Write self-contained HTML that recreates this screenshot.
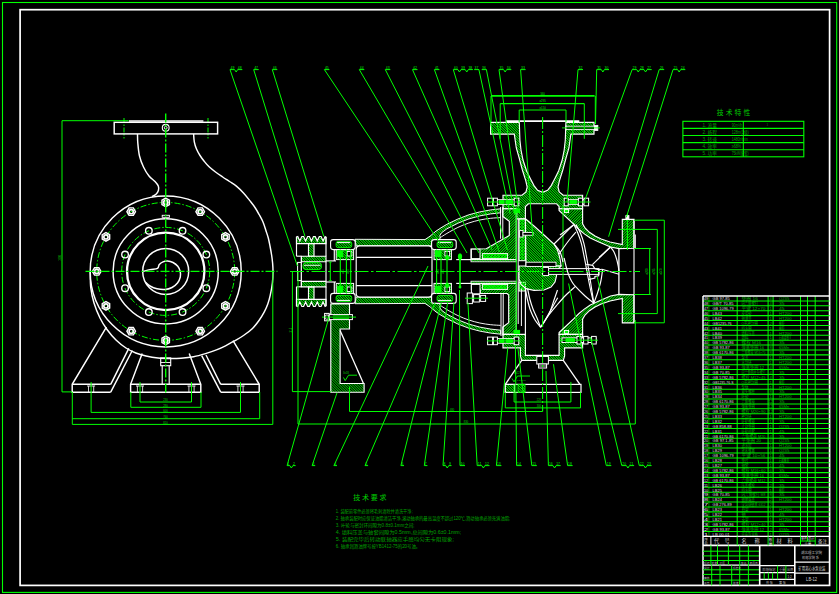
<!DOCTYPE html>
<html lang="zh">
<head>
<meta charset="utf-8">
<title>矿用离心水泵总装图</title>
<style>
html,body{margin:0;padding:0;background:#000;overflow:hidden;}
svg{display:block;}
text{font-family:"Liberation Sans","Noto Sans CJK SC",sans-serif;}
</style>
</head>
<body>
<svg width="839" height="594" viewBox="0 0 839 594">
<defs>
<pattern id="h" width="1.8" height="1.8" patternUnits="userSpaceOnUse" patternTransform="rotate(-45)">
<rect x="0" y="0" width="0.9" height="1.8" fill="#00ff00"/>
</pattern>
<pattern id="h2" width="1.9" height="1.9" patternUnits="userSpaceOnUse" patternTransform="rotate(45)">
<rect x="0" y="0" width="0.9" height="1.9" fill="#00ff00"/>
</pattern>
<pattern id="x" width="2" height="2" patternUnits="userSpaceOnUse" patternTransform="rotate(45)">
<rect x="0" y="0" width="1" height="2" fill="#00ff00"/><rect x="0" y="0" width="2" height="1" fill="#00ff00"/>
</pattern>
</defs>
<rect x="0" y="0" width="839" height="594" fill="#000"/>
<rect x="2.5" y="2.5" width="834.2" height="589.9" stroke="#00ff00" stroke-width="1.1" fill="none" />
<rect x="20.1" y="9.7" width="809.5" height="575.7" stroke="#ffffff" stroke-width="1.7" fill="none" />
<circle cx="165.7" cy="271.4" r="69" stroke="#00ff00" stroke-width="1" fill="none" stroke-dasharray="6 2 1.5 2"/>
<circle cx="165.7" cy="271.4" r="44" stroke="#00ff00" stroke-width="1" fill="none" stroke-dasharray="6 2 1.5 2"/>
<line x1="124" y1="118" x2="124" y2="138.5" stroke="#00ff00" stroke-width="1" stroke-dasharray="5 1.5 1.5 1.5"/>
<line x1="208" y1="118" x2="208" y2="138.5" stroke="#00ff00" stroke-width="1" stroke-dasharray="5 1.5 1.5 1.5"/>
<rect x="114.2" y="122.3" width="103.4" height="11.6" stroke="#ffffff" stroke-width="1.45" fill="none" />
<line x1="129" y1="121" x2="203.4" y2="121" stroke="#ffffff" stroke-width="1.6" />
<circle cx="165.7" cy="127.8" r="3.4" stroke="#ffffff" stroke-width="1.1" fill="none" />
<circle cx="165.7" cy="127.8" r="1.4" stroke="#ffffff" stroke-width="0.9" fill="none" />
<path d="M137.5,133.9C137.55,135.42 137.47,139.32 137.8,143C138.13,146.68 138.55,152 139.5,156C140.45,160 141.92,163.67 143.5,167C145.08,170.33 147.08,173.58 149,176C150.92,178.42 153.45,179.83 155,181.5C156.55,183.17 157.73,184.5 158.3,186C158.87,187.5 158.78,189.13 158.4,190.5C158.02,191.87 157.07,193.18 156,194.2C154.93,195.22 152.67,196.2 152,196.6" stroke="#ffffff" stroke-width="1.45" fill="none" />
<path d="M193.6,133.9C193.72,135.22 193.82,139.28 194.3,141.8C194.78,144.32 195.55,146.72 196.5,149C197.45,151.28 198.75,153.5 200,155.5C201.25,157.5 202.48,159.12 204,161C205.52,162.88 207.18,164.97 209.1,166.8C211.02,168.63 213.23,170.3 215.5,172C217.77,173.7 220.37,175.42 222.7,177C225.03,178.58 227.22,179.98 229.5,181.5C231.78,183.02 234.07,184.18 236.4,186.1C238.73,188.02 241.23,190.53 243.5,193C245.77,195.47 248.08,198.48 250,200.9C251.92,203.32 253.48,205.23 255,207.5C256.52,209.77 257.77,212.08 259.1,214.5C260.43,216.92 261.87,219.33 263,222C264.13,224.67 265.02,227.83 265.9,230.5C266.78,233.17 267.62,235.42 268.3,238C268.98,240.58 269.45,243.17 270,246C270.55,248.83 271.17,252.17 271.6,255C272.03,257.83 272.37,260.27 272.6,263C272.83,265.73 273.03,268.07 273,271.4C272.97,274.73 272.87,279 272.4,283C271.93,287 270.97,291.9 270.2,295.4C269.43,298.9 268.78,301.25 267.8,304C266.82,306.75 265.77,309.15 264.3,311.9C262.83,314.65 260.97,317.75 259,320.5C257.03,323.25 255.08,325.9 252.5,328.4C249.92,330.9 246.63,333.35 243.5,335.5C240.37,337.65 236.7,339.58 233.7,341.3C230.7,343.02 228.27,344.42 225.5,345.8C222.73,347.18 220.43,348.3 217.1,349.6C213.77,350.9 209.42,352.42 205.5,353.6C201.58,354.78 197.68,355.93 193.6,356.7C189.52,357.47 184.93,357.9 181,358.2C177.07,358.5 173.83,358.53 170,358.5C166.17,358.47 162,358.42 158,358C154,357.58 149.7,356.83 146,356C142.3,355.17 139.13,354.33 135.8,353C132.47,351.67 129.3,350.17 126,348C122.7,345.83 119.17,343.08 116,340C112.83,336.92 109.67,333.17 107,329.5C104.33,325.83 102.17,322.42 100,318C97.83,313.58 95.53,308 94,303C92.47,298 91.43,293.27 90.8,288C90.17,282.73 90.3,274.17 90.2,271.4" stroke="#ffffff" stroke-width="1.45" fill="none" />
<circle cx="165.7" cy="271.4" r="75.5" stroke="#ffffff" stroke-width="1.45" fill="none" />
<circle cx="165.7" cy="271.4" r="52.6" stroke="#ffffff" stroke-width="1.45" fill="none" />
<circle cx="165.7" cy="271.4" r="38.7" stroke="#ffffff" stroke-width="2.3" fill="none" />
<circle cx="165.7" cy="271.4" r="23" stroke="#ffffff" stroke-width="1.45" fill="none" />
<path d="M142.8,271.6C144,271.27 147.55,270.13 150,269.6C152.45,269.07 155.95,269.25 157.5,268.4C159.05,267.55 158.38,265.6 159.3,264.5C160.22,263.4 161.63,262.38 163,261.8C164.37,261.22 165.83,260.88 167.5,261C169.17,261.12 171.28,261.62 173,262.5C174.72,263.38 176.6,264.8 177.8,266.3C179,267.8 179.78,269.72 180.2,271.5C180.62,273.28 180.75,275.08 180.3,277C179.85,278.92 178.88,281.25 177.5,283C176.12,284.75 174.08,286.42 172,287.5C169.92,288.58 167.5,289.28 165,289.5C162.5,289.72 159.5,289.38 157,288.8C154.5,288.22 151.92,287.1 150,286C148.08,284.9 146.25,282.83 145.5,282.2" stroke="#ffffff" stroke-width="1.45" fill="none" />
<rect x="162.2" y="215.3" width="7.2" height="2" stroke="#ffffff" stroke-width="0.9" fill="none" />
<polygon points="239,271.4 236.85,275.12 232.55,275.12 230.4,271.4 232.55,267.68 236.85,267.68" stroke="#ffffff" stroke-width="1.4" fill="none" />
<circle cx="234.7" cy="271.4" r="2.1" stroke="#ffffff" stroke-width="1.7" fill="none" />
<polygon points="229.18,308.05 225.46,310.2 221.73,308.05 221.73,303.75 225.46,301.6 229.18,303.75" stroke="#ffffff" stroke-width="1.4" fill="none" />
<circle cx="225.46" cy="305.9" r="2.1" stroke="#ffffff" stroke-width="1.7" fill="none" />
<polygon points="202.35,334.88 198.05,334.88 195.9,331.16 198.05,327.43 202.35,327.43 204.5,331.16" stroke="#ffffff" stroke-width="1.4" fill="none" />
<circle cx="200.2" cy="331.16" r="2.1" stroke="#ffffff" stroke-width="1.7" fill="none" />
<polygon points="165.7,344.7 161.98,342.55 161.98,338.25 165.7,336.1 169.42,338.25 169.42,342.55" stroke="#ffffff" stroke-width="1.4" fill="none" />
<circle cx="165.7" cy="340.4" r="2.1" stroke="#ffffff" stroke-width="1.7" fill="none" />
<polygon points="129.05,334.88 126.9,331.16 129.05,327.43 133.35,327.43 135.5,331.16 133.35,334.88" stroke="#ffffff" stroke-width="1.4" fill="none" />
<circle cx="131.2" cy="331.16" r="2.1" stroke="#ffffff" stroke-width="1.7" fill="none" />
<polygon points="102.22,308.05 102.22,303.75 105.94,301.6 109.67,303.75 109.67,308.05 105.94,310.2" stroke="#ffffff" stroke-width="1.4" fill="none" />
<circle cx="105.94" cy="305.9" r="2.1" stroke="#ffffff" stroke-width="1.7" fill="none" />
<polygon points="92.4,271.4 94.55,267.68 98.85,267.68 101,271.4 98.85,275.12 94.55,275.12" stroke="#ffffff" stroke-width="1.4" fill="none" />
<circle cx="96.7" cy="271.4" r="2.1" stroke="#ffffff" stroke-width="1.7" fill="none" />
<polygon points="102.22,234.75 105.94,232.6 109.67,234.75 109.67,239.05 105.94,241.2 102.22,239.05" stroke="#ffffff" stroke-width="1.4" fill="none" />
<circle cx="105.94" cy="236.9" r="2.1" stroke="#ffffff" stroke-width="1.7" fill="none" />
<polygon points="129.05,207.92 133.35,207.92 135.5,211.64 133.35,215.37 129.05,215.37 126.9,211.64" stroke="#ffffff" stroke-width="1.4" fill="none" />
<circle cx="131.2" cy="211.64" r="2.1" stroke="#ffffff" stroke-width="1.7" fill="none" />
<polygon points="165.7,198.1 169.42,200.25 169.42,204.55 165.7,206.7 161.98,204.55 161.98,200.25" stroke="#ffffff" stroke-width="1.4" fill="none" />
<circle cx="165.7" cy="202.4" r="2.1" stroke="#ffffff" stroke-width="1.7" fill="none" />
<polygon points="202.35,207.92 204.5,211.64 202.35,215.37 198.05,215.37 195.9,211.64 198.05,207.92" stroke="#ffffff" stroke-width="1.4" fill="none" />
<circle cx="200.2" cy="211.64" r="2.1" stroke="#ffffff" stroke-width="1.7" fill="none" />
<polygon points="229.18,234.75 229.18,239.05 225.46,241.2 221.73,239.05 221.73,234.75 225.46,232.6" stroke="#ffffff" stroke-width="1.4" fill="none" />
<circle cx="225.46" cy="236.9" r="2.1" stroke="#ffffff" stroke-width="1.7" fill="none" />
<circle cx="206.35" cy="288.24" r="3.3" stroke="#ffffff" stroke-width="1.35" fill="none" />
<circle cx="182.54" cy="312.05" r="3.3" stroke="#ffffff" stroke-width="1.35" fill="none" />
<circle cx="148.86" cy="312.05" r="3.3" stroke="#ffffff" stroke-width="1.35" fill="none" />
<circle cx="125.05" cy="288.24" r="3.3" stroke="#ffffff" stroke-width="1.35" fill="none" />
<circle cx="125.05" cy="254.56" r="3.3" stroke="#ffffff" stroke-width="1.35" fill="none" />
<circle cx="148.86" cy="230.75" r="3.3" stroke="#ffffff" stroke-width="1.35" fill="none" />
<circle cx="182.54" cy="230.75" r="3.3" stroke="#ffffff" stroke-width="1.35" fill="none" />
<circle cx="206.35" cy="254.56" r="3.3" stroke="#ffffff" stroke-width="1.35" fill="none" />
<polyline points="106.4,327.1 72.2,384.3 72.2,392.2 110.7,392.2" stroke="#ffffff" stroke-width="1.45" fill="none" />
<line x1="72.2" y1="384.3" x2="110.7" y2="384.3" stroke="#ffffff" stroke-width="1.45" />
<line x1="110.7" y1="384.3" x2="128.8" y2="348.3" stroke="#ffffff" stroke-width="1.45" />
<line x1="110.7" y1="392.2" x2="132.3" y2="350.5" stroke="#ffffff" stroke-width="1.45" />
<polyline points="233,340.6 259.2,384.3 259.2,392.2 220.7,392.2" stroke="#ffffff" stroke-width="1.45" fill="none" />
<line x1="259.2" y1="384.3" x2="220.7" y2="384.3" stroke="#ffffff" stroke-width="1.45" />
<line x1="220.7" y1="384.3" x2="206" y2="355" stroke="#ffffff" stroke-width="1.45" />
<line x1="220.7" y1="392.2" x2="201.7" y2="355.6" stroke="#ffffff" stroke-width="1.45" />
<polyline points="142.2,353.4 130.6,384.3 130.6,392.2 200.8,392.2 200.8,384.3 189.2,353.4" stroke="#ffffff" stroke-width="1.45" fill="none" />
<line x1="130.6" y1="384.3" x2="200.8" y2="384.3" stroke="#ffffff" stroke-width="1.45" />
<rect x="160.7" y="357.9" width="10" height="7.8" stroke="#ffffff" stroke-width="1.1" fill="none" />
<line x1="160.7" y1="362.5" x2="170.7" y2="362.5" stroke="#ffffff" stroke-width="0.9" />
<line x1="162.2" y1="365.7" x2="162.2" y2="384.3" stroke="#ffffff" stroke-width="1.1" />
<line x1="169.2" y1="365.7" x2="169.2" y2="384.3" stroke="#ffffff" stroke-width="1.1" />
<line x1="87.1" y1="386" x2="95.1" y2="386" stroke="#ffffff" stroke-width="0.9" />
<line x1="88.5" y1="386" x2="88.5" y2="392" stroke="#ffffff" stroke-width="0.8" />
<line x1="93.7" y1="386" x2="93.7" y2="392" stroke="#ffffff" stroke-width="0.8" />
<line x1="136" y1="386" x2="144" y2="386" stroke="#ffffff" stroke-width="0.9" />
<line x1="137.4" y1="386" x2="137.4" y2="392" stroke="#ffffff" stroke-width="0.8" />
<line x1="142.6" y1="386" x2="142.6" y2="392" stroke="#ffffff" stroke-width="0.8" />
<line x1="187.5" y1="386" x2="195.5" y2="386" stroke="#ffffff" stroke-width="0.9" />
<line x1="188.9" y1="386" x2="188.9" y2="392" stroke="#ffffff" stroke-width="0.8" />
<line x1="194.1" y1="386" x2="194.1" y2="392" stroke="#ffffff" stroke-width="0.8" />
<line x1="236.5" y1="386" x2="244.5" y2="386" stroke="#ffffff" stroke-width="0.9" />
<line x1="237.9" y1="386" x2="237.9" y2="392" stroke="#ffffff" stroke-width="0.8" />
<line x1="243.1" y1="386" x2="243.1" y2="392" stroke="#ffffff" stroke-width="0.8" />
<polyline points="128.6,120.7 62,120.7 62,391.9 72,391.9" stroke="#00ff00" stroke-width="1" fill="none" />
<line x1="91.1" y1="382" x2="91.1" y2="412.4" stroke="#00ff00" stroke-width="1" />
<line x1="240.5" y1="382" x2="240.5" y2="412.4" stroke="#00ff00" stroke-width="1" />
<line x1="91.1" y1="412.4" x2="240.5" y2="412.4" stroke="#00ff00" stroke-width="1" />
<line x1="140" y1="382" x2="140" y2="402" stroke="#00ff00" stroke-width="1" />
<line x1="191.5" y1="382" x2="191.5" y2="402" stroke="#00ff00" stroke-width="1" />
<line x1="140" y1="402" x2="191.5" y2="402" stroke="#00ff00" stroke-width="1" />
<line x1="130.8" y1="392" x2="130.8" y2="407.3" stroke="#00ff00" stroke-width="1" />
<line x1="201" y1="392" x2="201" y2="407.3" stroke="#00ff00" stroke-width="1" />
<line x1="130.8" y1="407.3" x2="201" y2="407.3" stroke="#00ff00" stroke-width="1" />
<line x1="72.3" y1="392" x2="72.3" y2="424.4" stroke="#00ff00" stroke-width="1" />
<line x1="259.7" y1="392" x2="259.7" y2="418.7" stroke="#00ff00" stroke-width="1" />
<line x1="72.3" y1="418.7" x2="259.7" y2="418.7" stroke="#00ff00" stroke-width="1" />
<line x1="72.3" y1="424.4" x2="272.8" y2="424.4" stroke="#00ff00" stroke-width="1" />
<line x1="272.8" y1="271.4" x2="272.8" y2="424.4" stroke="#00ff00" stroke-width="1" />
<text x="165.5" y="401.3" font-size="2.6" fill="#00ff00" text-anchor="middle" fill-opacity="0.8" >230</text>
<text x="165.5" y="406.6" font-size="2.6" fill="#00ff00" text-anchor="middle" fill-opacity="0.8" >280</text>
<text x="165.5" y="411.7" font-size="2.6" fill="#00ff00" text-anchor="middle" fill-opacity="0.8" >600</text>
<text x="165.5" y="418" font-size="2.6" fill="#00ff00" text-anchor="middle" fill-opacity="0.8" >760</text>
<text x="165.5" y="423.7" font-size="2.6" fill="#00ff00" text-anchor="middle" fill-opacity="0.8" >810</text>
<text x="61.3" y="258" font-size="2.6" fill="#00ff00" fill-opacity=".8" text-anchor="middle" transform="rotate(-90 61.3 258)">1000</text>
<line x1="165.7" y1="113.5" x2="165.7" y2="394" stroke="#00ff00" stroke-width="1.4" stroke-dasharray="9 2 2 2"/>
<line x1="85.5" y1="271.4" x2="277.5" y2="271.4" stroke="#00ff00" stroke-width="1.3" stroke-dasharray="9 2 2 2"/>
<polygon points="296.5,243.6 296.5,237 297.8,236.5 299.8,241 301.8,236.5 303.62,236.5 305.62,241 307.62,236.5 309.44,236.5 311.44,241 313.44,236.5 315.26,236.5 317.26,241 319.26,236.5 321.08,236.5 323.08,241 325.08,236.5 326,237 326,243.6" stroke="#ffffff" stroke-width="1.15" fill="url(#h)" />
<polygon points="296.5,299.4 296.5,306 297.8,306.5 299.8,302 301.8,306.5 303.62,306.5 305.62,302 307.62,306.5 309.44,306.5 311.44,302 313.44,306.5 315.26,306.5 317.26,302 319.26,306.5 321.08,306.5 323.08,302 325.08,306.5 326,306 326,299.4" stroke="#ffffff" stroke-width="1.15" fill="url(#h)" />
<polygon points="308.5,243.6 314,243.6 314,256.2 308.5,256.2" stroke="#ffffff" stroke-width="1.15" fill="url(#h)" />
<polygon points="308.5,299.4 314,299.4 314,286.8 308.5,286.8" stroke="#ffffff" stroke-width="1.15" fill="url(#h)" />
<polygon points="301.4,256.2 326,256.2 326,261.7 301.4,261.7" stroke="#ffffff" stroke-width="1.15" fill="url(#h)" />
<polygon points="301.4,286.8 326,286.8 326,281.3 301.4,281.3" stroke="#ffffff" stroke-width="1.15" fill="url(#h)" />
<line x1="296.5" y1="237" x2="296.5" y2="256.2" stroke="#ffffff" stroke-width="1.15" />
<line x1="326" y1="237" x2="326" y2="256.2" stroke="#ffffff" stroke-width="1.15" />
<line x1="296.5" y1="286.8" x2="296.5" y2="306" stroke="#ffffff" stroke-width="1.15" />
<line x1="326" y1="286.8" x2="326" y2="306" stroke="#ffffff" stroke-width="1.15" />
<line x1="296.5" y1="256.2" x2="301.4" y2="256.2" stroke="#ffffff" stroke-width="1.15" />
<line x1="296.5" y1="286.8" x2="301.4" y2="286.8" stroke="#ffffff" stroke-width="1.15" />
<line x1="301.4" y1="256.2" x2="301.4" y2="286.8" stroke="#ffffff" stroke-width="1.15" />
<rect x="297.6" y="262.4" width="3.6" height="18.2" stroke="#ffffff" stroke-width="1" fill="#000" />
<line x1="326" y1="261.7" x2="326" y2="281.3" stroke="#ffffff" stroke-width="1.15" />
<rect x="303" y="262.6" width="18.5" height="7" rx="3" fill="url(#h)" stroke="#00ff00" stroke-width="1"/>
<line x1="304" y1="265.3" x2="320.5" y2="265.3" stroke="#ffffff" stroke-width="0.9" />
<line x1="326" y1="260.9" x2="336" y2="260.9" stroke="#ffffff" stroke-width="1.15" />
<line x1="326" y1="282" x2="336" y2="282" stroke="#ffffff" stroke-width="1.15" />
<line x1="330.3" y1="262" x2="330.3" y2="280.6" stroke="#00ff00" stroke-width="1" />
<line x1="328.8" y1="262" x2="331.8" y2="262" stroke="#00ff00" stroke-width="0.8" />
<line x1="328.8" y1="280.6" x2="331.8" y2="280.6" stroke="#00ff00" stroke-width="0.8" />
<polygon points="355,239.3 425,239.6 430,236.2 436,231.1 441,227.8 446.9,224.3 457.9,219 468.8,214.8 479.8,211.9 490.7,209.9 500.6,208.8 500.6,212.8 490.7,213.9 479.8,215.9 468.8,218.9 457.9,223.2 446.9,228.8 441.5,232.8 439.8,235.6 440.3,237.6 438,243.2 432,243.2 432,245.9 356.2,245.9" stroke="#ffffff" stroke-width="0.95" fill="url(#h)" />
<polygon points="355,303.7 425,303.4 430,306.8 436,311.9 441,315.2 446.9,318.7 457.9,324 468.8,328.2 479.8,331.1 490.7,333.1 500.6,334.2 500.6,330.2 490.7,329.1 479.8,327.1 468.8,324.1 457.9,319.8 446.9,314.2 441.5,310.2 439.8,307.4 440.3,305.4 438,299.8 432,299.8 432,297.1 356.2,297.1" stroke="#ffffff" stroke-width="0.95" fill="url(#h)" />
<path d="M440.3,237.6C441.4,236.9 443.97,235.1 446.9,233.4C449.83,231.7 454.25,229.13 457.9,227.4C461.55,225.67 465.15,224.23 468.8,223C472.45,221.77 476.15,220.78 479.8,220C483.45,219.22 487.23,218.7 490.7,218.3C494.17,217.9 498.95,217.72 500.6,217.6" stroke="#ffffff" stroke-width="0.95" fill="none" />
<path d="M440.3,305.4C441.4,306.1 443.97,307.9 446.9,309.6C449.83,311.3 454.25,313.87 457.9,315.6C461.55,317.33 465.15,318.77 468.8,320C472.45,321.23 476.15,322.22 479.8,323C483.45,323.78 487.23,324.3 490.7,324.7C494.17,325.1 498.95,325.28 500.6,325.4" stroke="#ffffff" stroke-width="0.95" fill="none" />
<rect x="356.2" y="245.9" width="75.8" height="51.2" rx="3.5" fill="#000" stroke="#fff" stroke-width="1.15"/>
<line x1="356.2" y1="257.4" x2="432" y2="257.4" stroke="#ffffff" stroke-width="1.15" />
<line x1="356.2" y1="285.6" x2="432" y2="285.6" stroke="#ffffff" stroke-width="1.15" />
<rect x="330.6" y="239.6" width="24.6" height="10" rx="2.5" fill="#000" stroke="#fff" stroke-width="1.1"/>
<rect x="336.1" y="241.4" width="15.6" height="6.2" rx="2" fill="url(#h)" stroke="#00ff00" stroke-width="0.9"/>
<line x1="337.1" y1="242.6" x2="350.2" y2="242.6" stroke="#ffffff" stroke-width="1" />
<rect x="336.2" y="249.6" width="17.4" height="10" stroke="#ffffff" stroke-width="1" fill="url(#h)" />
<rect x="337.7" y="251" width="5" height="5.5" stroke="#00ff00" stroke-width="1" fill="#00ff00" />
<rect x="347.1" y="251.5" width="4.7" height="4.5" stroke="#ffffff" stroke-width="0.9" fill="#000" />
<rect x="330.6" y="293.4" width="24.6" height="10" rx="2.5" fill="#000" stroke="#fff" stroke-width="1.1"/>
<rect x="336.1" y="295.4" width="15.6" height="6.2" rx="2" fill="url(#h)" stroke="#00ff00" stroke-width="0.9"/>
<line x1="337.1" y1="300.4" x2="350.2" y2="300.4" stroke="#ffffff" stroke-width="1" />
<rect x="336.2" y="283.4" width="17.4" height="10" stroke="#ffffff" stroke-width="1" fill="url(#h)" />
<rect x="337.7" y="286.5" width="5" height="5.5" stroke="#00ff00" stroke-width="1" fill="#00ff00" />
<rect x="347.1" y="287" width="4.7" height="4.5" stroke="#ffffff" stroke-width="0.9" fill="#000" />
<rect x="431.6" y="239.6" width="24.6" height="10" rx="2.5" fill="#000" stroke="#fff" stroke-width="1.1"/>
<rect x="437.1" y="241.4" width="15.6" height="6.2" rx="2" fill="url(#h)" stroke="#00ff00" stroke-width="0.9"/>
<line x1="438.1" y1="242.6" x2="451.2" y2="242.6" stroke="#ffffff" stroke-width="1" />
<rect x="434" y="249.6" width="17.4" height="10" stroke="#ffffff" stroke-width="1" fill="url(#h)" />
<rect x="435.5" y="251" width="5" height="5.5" stroke="#00ff00" stroke-width="1" fill="#00ff00" />
<rect x="444.9" y="251.5" width="4.7" height="4.5" stroke="#ffffff" stroke-width="0.9" fill="#000" />
<rect x="431.6" y="293.4" width="24.6" height="10" rx="2.5" fill="#000" stroke="#fff" stroke-width="1.1"/>
<rect x="437.1" y="295.4" width="15.6" height="6.2" rx="2" fill="url(#h)" stroke="#00ff00" stroke-width="0.9"/>
<line x1="438.1" y1="300.4" x2="451.2" y2="300.4" stroke="#ffffff" stroke-width="1" />
<rect x="434" y="283.4" width="17.4" height="10" stroke="#ffffff" stroke-width="1" fill="url(#h)" />
<rect x="435.5" y="286.5" width="5" height="5.5" stroke="#00ff00" stroke-width="1" fill="#00ff00" />
<rect x="444.9" y="287" width="4.7" height="4.5" stroke="#ffffff" stroke-width="0.9" fill="#000" />
<line x1="334.3" y1="249.6" x2="334.3" y2="260.9" stroke="#ffffff" stroke-width="1.15" />
<line x1="334.3" y1="293.4" x2="334.3" y2="282" stroke="#ffffff" stroke-width="1.15" />
<line x1="340.3" y1="249.5" x2="340.3" y2="293.5" stroke="#00ff00" stroke-width="1.1" />
<line x1="346.4" y1="249.5" x2="346.4" y2="293.5" stroke="#00ff00" stroke-width="1.1" />
<line x1="350.7" y1="249.5" x2="350.7" y2="293.5" stroke="#00ff00" stroke-width="1.1" />
<line x1="436.6" y1="249.5" x2="436.6" y2="293.5" stroke="#00ff00" stroke-width="1.1" />
<line x1="441" y1="249.5" x2="441" y2="293.5" stroke="#00ff00" stroke-width="1.1" />
<line x1="447" y1="249.5" x2="447" y2="293.5" stroke="#00ff00" stroke-width="1.1" />
<text x="343.5" y="271.5" font-size="2.6" fill="#00ff00" fill-opacity=".85" text-anchor="middle" transform="rotate(-90 343.5 271.5)">ø85</text>
<text x="348.6" y="271.5" font-size="2.6" fill="#00ff00" fill-opacity=".85" text-anchor="middle" transform="rotate(-90 348.6 271.5)">ø85</text>
<text x="438.8" y="271.5" font-size="2.6" fill="#00ff00" fill-opacity=".85" text-anchor="middle" transform="rotate(-90 438.8 271.5)">ø85</text>
<text x="444" y="271.5" font-size="2.6" fill="#00ff00" fill-opacity=".85" text-anchor="middle" transform="rotate(-90 444 271.5)">ø85</text>
<line x1="456.2" y1="259.6" x2="471" y2="259.6" stroke="#ffffff" stroke-width="1.15" />
<line x1="456.2" y1="283.4" x2="471" y2="283.4" stroke="#ffffff" stroke-width="1.15" />
<ellipse cx="460" cy="256.6" rx="2.1" ry="3.3" fill="#00ff00"/>
<line x1="460" y1="256" x2="460" y2="288" stroke="#00ff00" stroke-width="1.6" />
<ellipse cx="460" cy="287" rx="1.4" ry="1.6" fill="#00ff00"/>
<ellipse cx="447.2" cy="257.6" rx="2" ry="2.6" fill="#00ff00"/>
<ellipse cx="447.2" cy="285.4" rx="2" ry="2.6" fill="#00ff00"/>
<polygon points="330.8,304 349.5,304 349.5,329 340.1,329 340.1,383.5 364.1,383.5 364.1,392.2 330.8,392.2" stroke="#ffffff" stroke-width="1.15" fill="url(#h)" fill-opacity=".75"/>
<line x1="340.1" y1="330.5" x2="363.5" y2="383.5" stroke="#ffffff" stroke-width="1.3" />
<rect x="324.6" y="313.4" width="4.6" height="7.4" stroke="#ffffff" stroke-width="1" fill="#000" />
<rect x="329.2" y="314.6" width="23.2" height="5" stroke="#ffffff" stroke-width="1" fill="#000" />
<line x1="322" y1="317.1" x2="356" y2="317.1" stroke="#00ff00" stroke-width="1" />
<line x1="333" y1="315.8" x2="349" y2="315.8" stroke="#00ff00" stroke-width="0.9" />
<line x1="333" y1="318.4" x2="349" y2="318.4" stroke="#00ff00" stroke-width="0.9" />
<circle cx="326.9" cy="317.1" r="2.2" stroke="#ffffff" stroke-width="0.9" fill="none" />
<polyline points="343.5,377.5 345.2,380.6 348.5,375.2 357,375.2" stroke="#00ff00" stroke-width="0.9" fill="none" />
<text x="343" y="374" font-size="2.6" fill="#00ff00" text-anchor="start" fill-opacity="0.8" >3x18</text>
<polygon points="490.6,122.3 519.3,122.3 519.9,140 521,150 523,160 526.5,170.8 530.3,178.4 534,185.6 537.6,190.3 542.6,192.3 547.6,190.3 551.2,185.6 554.9,178.4 558.7,170.8 562.2,160 564.2,150 565.3,140 565.9,122.3 594,122.3 594,134.1 570.9,134.1 568.9,148 566.2,157.3 562.8,170 559.4,180.9 558,187 559.2,192 563.2,195.2 582.6,195.2 582.6,208.7 559.1,208.7 559.1,206.5 556.5,203.7 528.5,203.7 525.4,206.5 525.4,218.8 516.7,218.8 516.7,208.7 503,208.7 503,195.2 522,195.2 526,192 527.2,187 525.8,180.9 522.4,170 519,157.3 516.3,148 514.3,134.1 490.6,134.1" stroke="#ffffff" stroke-width="1.15" fill="url(#h)" />
<polygon points="559.1,208.7 582.6,208.7 582.6,223.8 585,228 589.4,232.3 595,236 601.2,239 610,242 622.3,244.6 622.3,219.4 634,219.4 634,248.3 619,248.6 610.5,247 597.8,241.5 590.3,238 584.3,233.9 579,229.5 574.2,224.7 559.1,210.4" stroke="#ffffff" stroke-width="1.15" fill="url(#h2)" />
<line x1="505.8" y1="121.1" x2="579.3" y2="121.1" stroke="#ffffff" stroke-width="1.7" />
<polygon points="502.8,208.7 516.3,208.7 516.3,259.6 471,259.6 471,249 486.3,248.7 509.3,235.5 509.3,221.3 502.8,216.4" stroke="#ffffff" stroke-width="1.15" fill="url(#h2)" />
<polygon points="471.4,283.4 516.3,283.4 516.3,334.3 502.8,334.3 502.8,327 508.7,322.6 508.7,295 507.2,293.5 480.2,293.5 480.2,289.7 471.4,289.7" stroke="#ffffff" stroke-width="1.15" fill="url(#h2)" />
<line x1="500.6" y1="207" x2="500.6" y2="238.8" stroke="#ffffff" stroke-width="1" />
<line x1="501" y1="293.5" x2="501" y2="336" stroke="#ffffff" stroke-width="1" />
<line x1="502.8" y1="207" x2="502.8" y2="238.8" stroke="#ffffff" stroke-width="1" />
<line x1="503.2" y1="293.5" x2="503.2" y2="336" stroke="#ffffff" stroke-width="1" />
<rect x="482.4" y="253.6" width="25.2" height="5" stroke="#ffffff" stroke-width="0.9" fill="url(#x)" />
<rect x="471.4" y="249.2" width="8.6" height="9.4" stroke="#ffffff" stroke-width="1" fill="#000" />
<rect x="471" y="259.6" width="45.3" height="2.2" stroke="#ffffff" stroke-width="0.8" fill="url(#h)" />
<rect x="482.4" y="284.4" width="25.2" height="5" stroke="#ffffff" stroke-width="0.9" fill="url(#x)" />
<rect x="471.4" y="284.4" width="8.6" height="9.4" stroke="#ffffff" stroke-width="1" fill="#000" />
<rect x="471" y="281.2" width="45.3" height="2.2" stroke="#ffffff" stroke-width="0.8" fill="url(#h)" />
<rect x="519" y="219" width="6.4" height="41.7" stroke="#ffffff" stroke-width="1" fill="url(#x)" />
<rect x="519" y="282.3" width="6.4" height="8.7" stroke="#ffffff" stroke-width="1" fill="url(#x)" />
<polygon points="525.4,218.8 534,226 544,235 554,244 557.5,250 559.6,257 560.6,262 561,266 526,266" stroke="#ffffff" stroke-width="1.15" fill="url(#h)" />
<polygon points="519,271.5 519,279 521,284.5 526,288.6 534,290.3 544,290 551,287 555,282 556.5,276 556.5,271.5 561,266 526,266 519,266" stroke="#ffffff" stroke-width="1.15" fill="url(#h)" />
<rect x="526" y="262.2" width="30" height="4.2" stroke="#ffffff" stroke-width="0.9" fill="#000" />
<rect x="542.6" y="268.6" width="56.4" height="5.8" stroke="#ffffff" stroke-width="1" fill="#000" />
<rect x="542.6" y="267.4" width="6" height="8.2" stroke="#ffffff" stroke-width="1" fill="#000" />
<line x1="516.3" y1="208" x2="516.3" y2="338" stroke="#00ff00" stroke-width="1" />
<line x1="518.2" y1="219" x2="518.2" y2="324" stroke="#ffffff" stroke-width="1" />
<line x1="563" y1="205" x2="563" y2="340" stroke="#00ff00" stroke-width="1" />
<polygon points="582.6,334.3 582.6,347.8 564.6,347.8 564.6,356 563.3,360.4 521.7,360.4 520.4,356 520.4,347.8 503,347.8 503,334.3 525.4,334.3 525.4,355.4 559.1,355.4 559.1,334.3" stroke="#ffffff" stroke-width="1.15" fill="url(#h)" />
<polygon points="634,294.7 634,322.8 622.3,322.8 622.3,298.4 610,301 601.2,304 595,307 589.4,310.7 585,315 582.6,319.2 582.6,334.3 559.1,334.3 559.1,332.6 574.2,318.3 579,313.5 584.3,309.1 590.3,305 597.8,301.5 610.5,296 619,294.4" stroke="#ffffff" stroke-width="1.15" fill="url(#h2)" />
<line x1="525.4" y1="288.6" x2="525.4" y2="334.3" stroke="#ffffff" stroke-width="1.15" />
<line x1="521.4" y1="288.6" x2="521.4" y2="326" stroke="#ffffff" stroke-width="1" />
<rect x="536.8" y="356.4" width="11.6" height="7.6" stroke="#ffffff" stroke-width="1" fill="#000" />
<rect x="538.6" y="364" width="8" height="4" stroke="#ffffff" stroke-width="1" fill="#000" />
<line x1="538.6" y1="366" x2="546.6" y2="366" stroke="#ffffff" stroke-width="0.8" />
<line x1="521.7" y1="360.4" x2="505.3" y2="384.4" stroke="#ffffff" stroke-width="1.3" />
<line x1="563.3" y1="360.4" x2="579.9" y2="384.4" stroke="#ffffff" stroke-width="1.3" />
<rect x="505.3" y="384.4" width="75.7" height="8" stroke="#ffffff" stroke-width="1.2" fill="none" />
<rect x="505.3" y="384.4" width="9.2" height="8" stroke="#ffffff" stroke-width="1" fill="url(#h)" />
<rect x="518" y="384.4" width="7" height="8" stroke="#00ff00" stroke-width="0.9" fill="url(#h)" />
<polyline points="512,378.5 514,381.8 517.5,376 530,376" stroke="#00ff00" stroke-width="0.9" fill="none" />
<text x="514" y="374" font-size="2.6" fill="#00ff00" text-anchor="start" fill-opacity="0.8" >4x22</text>
<text x="517" y="380.6" font-size="2.4" fill="#00ff00" text-anchor="start" fill-opacity="0.8" >3.2/12.5</text>
<line x1="618.9" y1="248.4" x2="618.9" y2="294.6" stroke="#ffffff" stroke-width="1.3" />
<line x1="634" y1="219.4" x2="634" y2="322.8" stroke="#ffffff" stroke-width="1.1" />
<line x1="635.4" y1="234.5" x2="635.4" y2="248.3" stroke="#ffffff" stroke-width="0.9" />
<line x1="627.4" y1="214" x2="627.4" y2="250" stroke="#00ff00" stroke-width="1.1" />
<rect x="625.9" y="215.6" width="3" height="3.8" stroke="#ffffff" stroke-width="0.9" fill="#ffffff" />
<line x1="573.4" y1="224.9" x2="554" y2="244" stroke="#ffffff" stroke-width="1.15" />
<path d="M573.5,223.6C574.25,225.25 576.67,230.13 578,233.5C579.33,236.87 580.57,240.38 581.5,243.8C582.43,247.22 582.92,250.63 583.6,254C584.28,257.37 584.87,260.17 585.6,264C586.33,267.83 587.17,272.67 588,277C588.83,281.33 589.67,285.67 590.6,290C591.53,294.33 593.1,300.83 593.6,303" stroke="#ffffff" stroke-width="1.15" fill="none" />
<path d="M576,224.6C576.77,226.08 579.27,230.3 580.6,233.5C581.93,236.7 583.1,240.38 584,243.8C584.9,247.22 585.37,250.63 586,254C586.63,257.37 587.17,260.17 587.8,264C588.43,267.83 589.13,272.67 589.8,277C590.47,281.33 591.13,285.63 591.8,290C592.47,294.37 593.47,301 593.8,303.2" stroke="#ffffff" stroke-width="1.15" fill="none" />
<line x1="610.5" y1="247" x2="592.4" y2="264.6" stroke="#ffffff" stroke-width="1.15" />
<path d="M610.5,247C611.08,247.83 612.98,250 614,252C615.02,254 615.9,256.67 616.6,259C617.3,261.33 617.8,263.92 618.2,266C618.6,268.08 618.87,270.58 619,271.5" stroke="#ffffff" stroke-width="1.15" fill="none" />
<polyline points="586.1,264.3 592.7,265.4 594.9,268.7 598.7,269.8 598.7,275.8 594.9,276.4 594.9,278 588.3,279.6" stroke="#ffffff" stroke-width="1.15" fill="none" />
<line x1="602" y1="269.2" x2="619" y2="274.2" stroke="#ffffff" stroke-width="1.15" />
<line x1="598.7" y1="269.8" x2="602" y2="269.2" stroke="#ffffff" stroke-width="1.15" />
<path d="M593.8,303.2C594.42,301.5 596.4,296.37 597.5,293C598.6,289.63 599.72,285.68 600.4,283C601.08,280.32 601.23,279.2 601.6,276.9C601.97,274.6 602.43,270.48 602.6,269.2" stroke="#ffffff" stroke-width="1.15" fill="none" />
<line x1="560" y1="235" x2="573.5" y2="225" stroke="#ffffff" stroke-width="1.15" />
<path d="M564.1,258C564.42,259.33 565.25,263.22 566,266C566.75,268.78 567.68,272.2 568.6,274.7C569.52,277.2 570.4,279.08 571.5,281C572.6,282.92 573.12,283.87 575.2,286.2C577.28,288.53 580.9,292.17 584,295C587.1,297.83 592.17,301.83 593.8,303.2" stroke="#ffffff" stroke-width="1.15" fill="none" />
<path d="M525.4,288.6C525.72,290.33 526.45,295.35 527.3,299C528.15,302.65 529.22,307 530.5,310.5C531.78,314 533.32,317.2 535,320C536.68,322.8 539.67,326.08 540.6,327.3" stroke="#ffffff" stroke-width="1.15" fill="none" />
<path d="M527.6,288.6C527.97,290.33 528.9,295.6 529.8,299C530.7,302.4 531.8,305.83 533,309C534.2,312.17 535.73,314.95 537,318C538.27,321.05 540,325.75 540.6,327.3" stroke="#ffffff" stroke-width="1.15" fill="none" />
<path d="M540.6,327.3C541.83,325.42 545.27,319.72 548,316C550.73,312.28 554,308.5 557,305C560,301.5 562.97,298.07 566,295C569.03,291.93 573.67,288 575.2,286.6" stroke="#ffffff" stroke-width="1.15" fill="none" />
<path d="M540.6,327.3C542,325.08 546.77,318.55 549,314C551.23,309.45 552.58,304 554,300C555.42,296 556.92,291.67 557.5,290" stroke="#ffffff" stroke-width="1.15" fill="none" />
<line x1="543" y1="324" x2="557.7" y2="297.7" stroke="#ffffff" stroke-width="1.15" />
<path d="M559.1,254.1C559.92,252.92 562.18,249.52 564,247C565.82,244.48 568,241.5 570,239C572,236.5 575,233.17 576,232" stroke="#ffffff" stroke-width="1.15" fill="none" />
<path d="M554,244C555,245.33 558.5,249 560,252C561.5,255 562.5,260.33 563,262" stroke="#ffffff" stroke-width="1.15" fill="none" />
<line x1="599" y1="257.5" x2="610.5" y2="247" stroke="#ffffff" stroke-width="1.15" />
<rect x="489" y="199.7" width="29.6" height="4.6" stroke="#ffffff" stroke-width="1" fill="#000" />
<rect x="487.6" y="198.2" width="5" height="7.6" stroke="#ffffff" stroke-width="1" fill="#000" />
<rect x="493.4" y="198.2" width="4" height="7.6" stroke="#ffffff" stroke-width="1" fill="#000" />
<rect x="514.2" y="198.2" width="4.6" height="7.6" stroke="#ffffff" stroke-width="1" fill="#000" />
<line x1="487" y1="202" x2="520.6" y2="202" stroke="#00ff00" stroke-width="1" />
<rect x="499.5" y="200.4" width="4.5" height="3.2" stroke="#00ff00" stroke-width="0.9" fill="#00ff00" />
<rect x="506" y="200.4" width="6.5" height="3.2" stroke="#00ff00" stroke-width="0.9" fill="#00ff00" />
<rect x="489" y="338.6" width="29.6" height="4.6" stroke="#ffffff" stroke-width="1" fill="#000" />
<rect x="487.6" y="337.1" width="5" height="7.6" stroke="#ffffff" stroke-width="1" fill="#000" />
<rect x="493.4" y="337.1" width="4" height="7.6" stroke="#ffffff" stroke-width="1" fill="#000" />
<rect x="514.2" y="337.1" width="4.6" height="7.6" stroke="#ffffff" stroke-width="1" fill="#000" />
<line x1="487" y1="340.9" x2="520.6" y2="340.9" stroke="#00ff00" stroke-width="1" />
<rect x="499.5" y="339.3" width="4.5" height="3.2" stroke="#00ff00" stroke-width="0.9" fill="#00ff00" />
<rect x="506" y="339.3" width="6.5" height="3.2" stroke="#00ff00" stroke-width="0.9" fill="#00ff00" />
<rect x="564.5" y="199.7" width="24" height="4.6" stroke="#ffffff" stroke-width="1" fill="#000" />
<rect x="564.2" y="198.2" width="4" height="7.6" stroke="#ffffff" stroke-width="1" fill="#000" />
<rect x="578.4" y="198.2" width="4.2" height="7.6" stroke="#ffffff" stroke-width="1" fill="#000" />
<rect x="584" y="198.2" width="4.6" height="7.6" stroke="#ffffff" stroke-width="1" fill="#000" />
<line x1="562.5" y1="202" x2="590.5" y2="202" stroke="#00ff00" stroke-width="1" />
<rect x="570" y="200.4" width="6.5" height="3.2" stroke="#00ff00" stroke-width="0.9" fill="#00ff00" />
<rect x="562" y="337.9" width="34" height="4.6" stroke="#ffffff" stroke-width="1" fill="#000" />
<rect x="577" y="336.4" width="4" height="7.6" stroke="#ffffff" stroke-width="1" fill="#000" />
<rect x="583.6" y="336.4" width="4.4" height="7.6" stroke="#ffffff" stroke-width="1" fill="#000" />
<rect x="591.6" y="336.4" width="4.6" height="7.6" stroke="#ffffff" stroke-width="1" fill="#000" />
<line x1="560" y1="340.2" x2="598" y2="340.2" stroke="#00ff00" stroke-width="1" />
<rect x="566" y="338.6" width="8.5" height="3.2" stroke="#00ff00" stroke-width="0.9" fill="#00ff00" />
<rect x="566" y="126.2" width="28.6" height="3.4" stroke="#ffffff" stroke-width="0.9" fill="#000" />
<rect x="594.6" y="125.4" width="3.2" height="5" stroke="#ffffff" stroke-width="0.9" fill="#ffffff" />
<line x1="562" y1="127.9" x2="600" y2="127.9" stroke="#00ff00" stroke-width="0.9" />
<rect x="467.2" y="293" width="5.2" height="10.6" stroke="#ffffff" stroke-width="1" fill="#000" />
<rect x="473.6" y="294.6" width="5.8" height="7.4" stroke="#ffffff" stroke-width="1" fill="#000" />
<rect x="480.6" y="295.4" width="5" height="6" stroke="#ffffff" stroke-width="1" fill="#000" />
<line x1="465" y1="298.2" x2="488" y2="298.2" stroke="#00ff00" stroke-width="1" />
<rect x="519.6" y="230.6" width="3.4" height="6.4" stroke="#ffffff" stroke-width="0.9" fill="#000" />
<rect x="523" y="232.4" width="10" height="2.8" stroke="#ffffff" stroke-width="0.9" fill="#000" />
<rect x="514" y="209.4" width="5.6" height="3.2" stroke="#00ff00" stroke-width="1" fill="#00ff00" />
<rect x="564.4" y="209.6" width="4.2" height="3" stroke="#ffffff" stroke-width="0.9" fill="#00ff00" />
<rect x="514" y="330.4" width="5.6" height="3.2" stroke="#00ff00" stroke-width="1" fill="#00ff00" />
<rect x="564.4" y="330.4" width="4.2" height="3" stroke="#ffffff" stroke-width="0.9" fill="#00ff00" />
<line x1="290" y1="271.5" x2="640" y2="271.5" stroke="#00ff00" stroke-width="1.2" stroke-dasharray="14 2.5 2.5 2.5"/>
<line x1="542.6" y1="117" x2="542.6" y2="411.4" stroke="#00ff00" stroke-width="1.1" stroke-dasharray="12 2 2 2"/>
<line x1="491" y1="95.9" x2="594.6" y2="95.9" stroke="#00ff00" stroke-width="1.8" />
<line x1="500.2" y1="103.6" x2="584.3" y2="103.6" stroke="#00ff00" stroke-width="1.2" />
<line x1="519.2" y1="110" x2="566" y2="110" stroke="#00ff00" stroke-width="1.1" />
<line x1="491" y1="95.9" x2="491" y2="122.3" stroke="#00ff00" stroke-width="1" />
<line x1="595.3" y1="95.9" x2="595.3" y2="122.3" stroke="#00ff00" stroke-width="1" />
<line x1="500.2" y1="103.6" x2="500.2" y2="138.8" stroke="#00ff00" stroke-width="1" />
<line x1="584.3" y1="103.6" x2="584.3" y2="138.8" stroke="#00ff00" stroke-width="1" />
<line x1="519.2" y1="110" x2="519.2" y2="122.3" stroke="#00ff00" stroke-width="1" />
<line x1="566" y1="110" x2="566" y2="122.3" stroke="#00ff00" stroke-width="1" />
<text x="542.6" y="94.6" font-size="2.8" fill="#00ff00" text-anchor="middle" fill-opacity="0.85" >340</text>
<text x="542.6" y="102.4" font-size="2.8" fill="#00ff00" text-anchor="middle" fill-opacity="0.85" >ø295</text>
<text x="542.6" y="108.9" font-size="2.8" fill="#00ff00" text-anchor="middle" fill-opacity="0.85" >ø150</text>
<polyline points="634,220.2 664.3,220.2 664.3,322.8 634,322.8" stroke="#00ff00" stroke-width="1" fill="none" />
<polyline points="618,229.4 657.3,229.4 657.3,313.6 618,313.6" stroke="#00ff00" stroke-width="1" fill="none" />
<polyline points="634,248.5 650.9,248.5" stroke="#00ff00" stroke-width="1" fill="none" />
<polyline points="634,294.5 650.9,294.5" stroke="#00ff00" stroke-width="1" fill="none" />
<line x1="649.7" y1="248.5" x2="649.7" y2="294.5" stroke="#00ff00" stroke-width="1" />
<text x="647.6" y="271.5" font-size="2.6" fill="#00ff00" fill-opacity=".85" text-anchor="middle" transform="rotate(-90 647.6 271.5)">ø200</text>
<text x="655.3" y="271.5" font-size="2.6" fill="#00ff00" fill-opacity=".85" text-anchor="middle" transform="rotate(-90 655.3 271.5)">ø295</text>
<text x="662.3" y="271.5" font-size="2.6" fill="#00ff00" fill-opacity=".85" text-anchor="middle" transform="rotate(-90 662.3 271.5)">ø340</text>
<polyline points="514.1,384.4 514.1,402 570.9,402 570.9,381.9" stroke="#00ff00" stroke-width="1" fill="none" />
<polyline points="505.3,392.4 505.3,407.9 580.5,407.9 580.5,392.4" stroke="#00ff00" stroke-width="1" fill="none" />
<text x="539" y="401" font-size="2.6" fill="#00ff00" text-anchor="middle" fill-opacity="0.8" >220</text>
<text x="539" y="407" font-size="2.6" fill="#00ff00" text-anchor="middle" fill-opacity="0.8" >300</text>
<polyline points="349.5,386.6 349.5,411.5 542.6,411.5" stroke="#00ff00" stroke-width="1" fill="none" />
<polyline points="298,271.5 298,424 635.3,424 635.3,320" stroke="#00ff00" stroke-width="1" fill="none" />
<polyline points="292.4,271.5 292.4,391.6 330.8,391.6" stroke="#00ff00" stroke-width="1" fill="none" />
<text x="452" y="410.6" font-size="2.6" fill="#00ff00" text-anchor="middle" fill-opacity="0.8" >480</text>
<text x="466" y="423" font-size="2.6" fill="#00ff00" text-anchor="middle" fill-opacity="0.8" >830</text>
<text x="291.6" y="330" font-size="2.6" fill="#00ff00" fill-opacity=".8" text-anchor="middle" transform="rotate(-90 291.6 330)">315</text>
<line x1="230" y1="69.6" x2="297.4" y2="266" stroke="#00ff00" stroke-width="1" />
<polyline points="230,69.6 234.65,69.6 236.15,72 237.65,69.6 242.3,69.6" stroke="#00ff00" stroke-width="1" fill="none" />
<text x="230.5" y="68.8" font-size="3.7" fill="#00ff00" text-anchor="start" textLength="3.8" lengthAdjust="spacingAndGlyphs" fill-opacity="0.95" >49</text>
<text x="237.8" y="68.8" font-size="3.7" fill="#00ff00" text-anchor="start" textLength="3.8" lengthAdjust="spacingAndGlyphs" fill-opacity="0.95" >48</text>
<line x1="253.7" y1="69.6" x2="305" y2="236.5" stroke="#00ff00" stroke-width="1" />
<polyline points="253.7,69.6 258.7,69.6" stroke="#00ff00" stroke-width="1" fill="none" />
<text x="254.2" y="68.8" font-size="3.7" fill="#00ff00" text-anchor="start" textLength="3.8" lengthAdjust="spacingAndGlyphs" fill-opacity="0.95" >47</text>
<line x1="272.3" y1="69.6" x2="323.8" y2="236.5" stroke="#00ff00" stroke-width="1" />
<polyline points="272.3,69.6 277.3,69.6" stroke="#00ff00" stroke-width="1" fill="none" />
<text x="272.8" y="68.8" font-size="3.7" fill="#00ff00" text-anchor="start" textLength="3.8" lengthAdjust="spacingAndGlyphs" fill-opacity="0.95" >46</text>
<line x1="324.4" y1="69.6" x2="440.5" y2="244" stroke="#00ff00" stroke-width="1" />
<polyline points="324.4,69.6 329.4,69.6" stroke="#00ff00" stroke-width="1" fill="none" />
<text x="324.9" y="68.8" font-size="3.7" fill="#00ff00" text-anchor="start" textLength="3.8" lengthAdjust="spacingAndGlyphs" fill-opacity="0.95" >45</text>
<line x1="359.3" y1="69.6" x2="467" y2="253" stroke="#00ff00" stroke-width="1" />
<polyline points="359.3,69.6 364.3,69.6" stroke="#00ff00" stroke-width="1" fill="none" />
<text x="359.8" y="68.8" font-size="3.7" fill="#00ff00" text-anchor="start" textLength="3.8" lengthAdjust="spacingAndGlyphs" fill-opacity="0.95" >44</text>
<line x1="385.3" y1="69.6" x2="479" y2="253" stroke="#00ff00" stroke-width="1" />
<polyline points="385.3,69.6 390.3,69.6" stroke="#00ff00" stroke-width="1" fill="none" />
<text x="385.8" y="68.8" font-size="3.7" fill="#00ff00" text-anchor="start" textLength="3.8" lengthAdjust="spacingAndGlyphs" fill-opacity="0.95" >43</text>
<line x1="412.5" y1="69.6" x2="492.2" y2="250" stroke="#00ff00" stroke-width="1" />
<polyline points="412.5,69.6 417.5,69.6" stroke="#00ff00" stroke-width="1" fill="none" />
<text x="413" y="68.8" font-size="3.7" fill="#00ff00" text-anchor="start" textLength="3.8" lengthAdjust="spacingAndGlyphs" fill-opacity="0.95" >42</text>
<line x1="434.4" y1="69.6" x2="499.4" y2="252" stroke="#00ff00" stroke-width="1" />
<polyline points="434.4,69.6 439.4,69.6" stroke="#00ff00" stroke-width="1" fill="none" />
<text x="434.9" y="68.8" font-size="3.7" fill="#00ff00" text-anchor="start" textLength="3.8" lengthAdjust="spacingAndGlyphs" fill-opacity="0.95" >41</text>
<line x1="453.3" y1="69.6" x2="507.4" y2="250" stroke="#00ff00" stroke-width="1" />
<polyline points="453.3,69.6 457.95,69.6 459.45,72 460.95,69.6 465.25,69.6 466.75,72 468.25,69.6 472.9,69.6" stroke="#00ff00" stroke-width="1" fill="none" />
<text x="453.8" y="68.8" font-size="3.7" fill="#00ff00" text-anchor="start" textLength="3.8" lengthAdjust="spacingAndGlyphs" fill-opacity="0.95" >40</text>
<text x="461.1" y="68.8" font-size="3.7" fill="#00ff00" text-anchor="start" textLength="3.8" lengthAdjust="spacingAndGlyphs" fill-opacity="0.95" >39</text>
<text x="468.4" y="68.8" font-size="3.7" fill="#00ff00" text-anchor="start" textLength="3.8" lengthAdjust="spacingAndGlyphs" fill-opacity="0.95" >38</text>
<line x1="478.9" y1="69.6" x2="510.2" y2="214" stroke="#00ff00" stroke-width="1" />
<polyline points="474.2,69.6 479.1,69.6" stroke="#00ff00" stroke-width="1" fill="none" />
<text x="474.6" y="68.8" font-size="3.7" fill="#00ff00" text-anchor="start" textLength="3.8" lengthAdjust="spacingAndGlyphs" fill-opacity="0.95" >37</text>
<line x1="486.4" y1="69.6" x2="515" y2="215" stroke="#00ff00" stroke-width="1" />
<polyline points="481.7,69.6 486.6,69.6" stroke="#00ff00" stroke-width="1" fill="none" />
<text x="482.1" y="68.8" font-size="3.7" fill="#00ff00" text-anchor="start" textLength="3.8" lengthAdjust="spacingAndGlyphs" fill-opacity="0.95" >36</text>
<line x1="499" y1="69.6" x2="518.7" y2="212" stroke="#00ff00" stroke-width="1" />
<polyline points="499,69.6 503.65,69.6 505.15,72 506.65,69.6 511.3,69.6" stroke="#00ff00" stroke-width="1" fill="none" />
<text x="499.5" y="68.8" font-size="3.7" fill="#00ff00" text-anchor="start" textLength="3.8" lengthAdjust="spacingAndGlyphs" fill-opacity="0.95" >35</text>
<text x="506.8" y="68.8" font-size="3.7" fill="#00ff00" text-anchor="start" textLength="3.8" lengthAdjust="spacingAndGlyphs" fill-opacity="0.95" >34</text>
<line x1="520.6" y1="69.6" x2="532.7" y2="236" stroke="#00ff00" stroke-width="1" />
<polyline points="520.6,69.6 525.6,69.6" stroke="#00ff00" stroke-width="1" fill="none" />
<text x="521.1" y="68.8" font-size="3.7" fill="#00ff00" text-anchor="start" textLength="3.8" lengthAdjust="spacingAndGlyphs" fill-opacity="0.95" >33</text>
<line x1="578" y1="69.6" x2="567" y2="202" stroke="#00ff00" stroke-width="1" />
<polyline points="578,69.6 583,69.6" stroke="#00ff00" stroke-width="1" fill="none" />
<text x="578.5" y="68.8" font-size="3.7" fill="#00ff00" text-anchor="start" textLength="3.8" lengthAdjust="spacingAndGlyphs" fill-opacity="0.95" >32</text>
<line x1="596.7" y1="69.6" x2="595.5" y2="124" stroke="#00ff00" stroke-width="1" />
<polyline points="596.7,69.6 601.35,69.6 602.85,72 604.35,69.6 609,69.6" stroke="#00ff00" stroke-width="1" fill="none" />
<text x="597.2" y="68.8" font-size="3.7" fill="#00ff00" text-anchor="start" textLength="3.8" lengthAdjust="spacingAndGlyphs" fill-opacity="0.95" >31</text>
<text x="604.5" y="68.8" font-size="3.7" fill="#00ff00" text-anchor="start" textLength="3.8" lengthAdjust="spacingAndGlyphs" fill-opacity="0.95" >30</text>
<line x1="632.1" y1="69.6" x2="584.5" y2="201.3" stroke="#00ff00" stroke-width="1" />
<polyline points="632.1,69.6 636.75,69.6 638.25,72 639.75,69.6 644.05,69.6 645.55,72 647.05,69.6 651.7,69.6" stroke="#00ff00" stroke-width="1" fill="none" />
<text x="632.6" y="68.8" font-size="3.7" fill="#00ff00" text-anchor="start" textLength="3.8" lengthAdjust="spacingAndGlyphs" fill-opacity="0.95" >29</text>
<text x="639.9" y="68.8" font-size="3.7" fill="#00ff00" text-anchor="start" textLength="3.8" lengthAdjust="spacingAndGlyphs" fill-opacity="0.95" >28</text>
<text x="647.2" y="68.8" font-size="3.7" fill="#00ff00" text-anchor="start" textLength="3.8" lengthAdjust="spacingAndGlyphs" fill-opacity="0.95" >27</text>
<line x1="659.2" y1="69.6" x2="608.6" y2="236.7" stroke="#00ff00" stroke-width="1" />
<polyline points="659.2,69.6 664.2,69.6" stroke="#00ff00" stroke-width="1" fill="none" />
<text x="659.7" y="68.8" font-size="3.7" fill="#00ff00" text-anchor="start" textLength="3.8" lengthAdjust="spacingAndGlyphs" fill-opacity="0.95" >26</text>
<line x1="673" y1="69.6" x2="626.3" y2="217.4" stroke="#00ff00" stroke-width="1" />
<polyline points="673,69.6 677.65,69.6 679.15,72 680.65,69.6 685.3,69.6" stroke="#00ff00" stroke-width="1" fill="none" />
<text x="673.5" y="68.8" font-size="3.7" fill="#00ff00" text-anchor="start" textLength="3.8" lengthAdjust="spacingAndGlyphs" fill-opacity="0.95" >25</text>
<text x="680.8" y="68.8" font-size="3.7" fill="#00ff00" text-anchor="start" textLength="3.8" lengthAdjust="spacingAndGlyphs" fill-opacity="0.95" >24</text>
<line x1="287.1" y1="465.6" x2="329.2" y2="316.5" stroke="#00ff00" stroke-width="1" />
<polyline points="287.1,465.6 289.85,465.6 291.35,468 292.85,465.6 295.6,465.6" stroke="#00ff00" stroke-width="1" fill="none" />
<text x="287.6" y="464.8" font-size="3.7" fill="#00ff00" text-anchor="start" textLength="1.9" lengthAdjust="spacingAndGlyphs" fill-opacity="0.95" >1</text>
<text x="293" y="464.8" font-size="3.7" fill="#00ff00" text-anchor="start" textLength="1.9" lengthAdjust="spacingAndGlyphs" fill-opacity="0.95" >2</text>
<line x1="312.1" y1="465.6" x2="337" y2="392.8" stroke="#00ff00" stroke-width="1" />
<polyline points="312.1,465.6 315.2,465.6" stroke="#00ff00" stroke-width="1" fill="none" />
<text x="312.6" y="464.8" font-size="3.7" fill="#00ff00" text-anchor="start" textLength="1.9" lengthAdjust="spacingAndGlyphs" fill-opacity="0.95" >3</text>
<line x1="333.9" y1="465.6" x2="428" y2="266" stroke="#00ff00" stroke-width="1" />
<polyline points="333.9,465.6 337,465.6" stroke="#00ff00" stroke-width="1" fill="none" />
<text x="334.4" y="464.8" font-size="3.7" fill="#00ff00" text-anchor="start" textLength="1.9" lengthAdjust="spacingAndGlyphs" fill-opacity="0.95" >4</text>
<line x1="365" y1="465.6" x2="435.2" y2="302.5" stroke="#00ff00" stroke-width="1" />
<polyline points="365,465.6 368.1,465.6" stroke="#00ff00" stroke-width="1" fill="none" />
<text x="365.5" y="464.8" font-size="3.7" fill="#00ff00" text-anchor="start" textLength="1.9" lengthAdjust="spacingAndGlyphs" fill-opacity="0.95" >5</text>
<line x1="400.9" y1="465.6" x2="441.4" y2="302.5" stroke="#00ff00" stroke-width="1" />
<polyline points="400.9,465.6 404,465.6" stroke="#00ff00" stroke-width="1" fill="none" />
<text x="401.4" y="464.8" font-size="3.7" fill="#00ff00" text-anchor="start" textLength="1.9" lengthAdjust="spacingAndGlyphs" fill-opacity="0.95" >6</text>
<line x1="424.3" y1="465.6" x2="447.6" y2="302.5" stroke="#00ff00" stroke-width="1" />
<polyline points="424.3,465.6 427.4,465.6" stroke="#00ff00" stroke-width="1" fill="none" />
<text x="424.8" y="464.8" font-size="3.7" fill="#00ff00" text-anchor="start" textLength="1.9" lengthAdjust="spacingAndGlyphs" fill-opacity="0.95" >7</text>
<line x1="443" y1="465.6" x2="453.9" y2="302.5" stroke="#00ff00" stroke-width="1" />
<polyline points="443,465.6 445.75,465.6 447.25,468 448.75,465.6 451.5,465.6" stroke="#00ff00" stroke-width="1" fill="none" />
<text x="443.5" y="464.8" font-size="3.7" fill="#00ff00" text-anchor="start" textLength="1.9" lengthAdjust="spacingAndGlyphs" fill-opacity="0.95" >8</text>
<text x="448.9" y="464.8" font-size="3.7" fill="#00ff00" text-anchor="start" textLength="1.9" lengthAdjust="spacingAndGlyphs" fill-opacity="0.95" >9</text>
<line x1="460" y1="465.6" x2="459.5" y2="290" stroke="#00ff00" stroke-width="1" />
<polyline points="460,465.6 465,465.6" stroke="#00ff00" stroke-width="1" fill="none" />
<text x="460.5" y="464.8" font-size="3.7" fill="#00ff00" text-anchor="start" textLength="3.8" lengthAdjust="spacingAndGlyphs" fill-opacity="0.95" >10</text>
<line x1="477.2" y1="465.6" x2="467.9" y2="302.5" stroke="#00ff00" stroke-width="1" />
<polyline points="477.2,465.6 481.85,465.6 483.35,468 484.85,465.6 489.5,465.6" stroke="#00ff00" stroke-width="1" fill="none" />
<text x="477.7" y="464.8" font-size="3.7" fill="#00ff00" text-anchor="start" textLength="3.8" lengthAdjust="spacingAndGlyphs" fill-opacity="0.95" >11</text>
<text x="485" y="464.8" font-size="3.7" fill="#00ff00" text-anchor="start" textLength="3.8" lengthAdjust="spacingAndGlyphs" fill-opacity="0.95" >12</text>
<line x1="496.4" y1="465.6" x2="507.8" y2="347.8" stroke="#00ff00" stroke-width="1" />
<polyline points="496.4,465.6 501.4,465.6" stroke="#00ff00" stroke-width="1" fill="none" />
<text x="496.9" y="464.8" font-size="3.7" fill="#00ff00" text-anchor="start" textLength="3.8" lengthAdjust="spacingAndGlyphs" fill-opacity="0.95" >13</text>
<line x1="516.6" y1="465.6" x2="515.4" y2="345.3" stroke="#00ff00" stroke-width="1" />
<polyline points="516.6,465.6 521.6,465.6" stroke="#00ff00" stroke-width="1" fill="none" />
<text x="517.1" y="464.8" font-size="3.7" fill="#00ff00" text-anchor="start" textLength="3.8" lengthAdjust="spacingAndGlyphs" fill-opacity="0.95" >14</text>
<line x1="531.8" y1="465.6" x2="517.9" y2="347.8" stroke="#00ff00" stroke-width="1" />
<polyline points="531.8,465.6 536.8,465.6" stroke="#00ff00" stroke-width="1" fill="none" />
<text x="532.3" y="464.8" font-size="3.7" fill="#00ff00" text-anchor="start" textLength="3.8" lengthAdjust="spacingAndGlyphs" fill-opacity="0.95" >15</text>
<line x1="548.4" y1="465.6" x2="546" y2="371" stroke="#00ff00" stroke-width="1" />
<polyline points="548.4,465.6 553.05,465.6 554.55,468 556.05,465.6 560.7,465.6" stroke="#00ff00" stroke-width="1" fill="none" />
<text x="548.9" y="464.8" font-size="3.7" fill="#00ff00" text-anchor="start" textLength="3.8" lengthAdjust="spacingAndGlyphs" fill-opacity="0.95" >16</text>
<text x="556.2" y="464.8" font-size="3.7" fill="#00ff00" text-anchor="start" textLength="3.8" lengthAdjust="spacingAndGlyphs" fill-opacity="0.95" >17</text>
<line x1="567.6" y1="465.6" x2="553.5" y2="364.2" stroke="#00ff00" stroke-width="1" />
<polyline points="567.6,465.6 572.6,465.6" stroke="#00ff00" stroke-width="1" fill="none" />
<text x="568.1" y="464.8" font-size="3.7" fill="#00ff00" text-anchor="start" textLength="3.8" lengthAdjust="spacingAndGlyphs" fill-opacity="0.95" >18</text>
<line x1="606.3" y1="465.6" x2="568.6" y2="283.5" stroke="#00ff00" stroke-width="1" />
<polyline points="606.3,465.6 611.3,465.6" stroke="#00ff00" stroke-width="1" fill="none" />
<text x="606.8" y="464.8" font-size="3.7" fill="#00ff00" text-anchor="start" textLength="3.8" lengthAdjust="spacingAndGlyphs" fill-opacity="0.95" >19</text>
<line x1="621.8" y1="465.6" x2="590.5" y2="337.3" stroke="#00ff00" stroke-width="1" />
<polyline points="621.8,465.6 626.45,465.6 627.95,468 629.45,465.6 634.1,465.6" stroke="#00ff00" stroke-width="1" fill="none" />
<text x="622.3" y="464.8" font-size="3.7" fill="#00ff00" text-anchor="start" textLength="3.8" lengthAdjust="spacingAndGlyphs" fill-opacity="0.95" >20</text>
<text x="629.6" y="464.8" font-size="3.7" fill="#00ff00" text-anchor="start" textLength="3.8" lengthAdjust="spacingAndGlyphs" fill-opacity="0.95" >21</text>
<line x1="639.3" y1="465.6" x2="597.2" y2="276.7" stroke="#00ff00" stroke-width="1" />
<polyline points="639.3,465.6 643.95,465.6 645.45,468 646.95,465.6 651.6,465.6" stroke="#00ff00" stroke-width="1" fill="none" />
<text x="639.8" y="464.8" font-size="3.7" fill="#00ff00" text-anchor="start" textLength="3.8" lengthAdjust="spacingAndGlyphs" fill-opacity="0.95" >22</text>
<text x="647.1" y="464.8" font-size="3.7" fill="#00ff00" text-anchor="start" textLength="3.8" lengthAdjust="spacingAndGlyphs" fill-opacity="0.95" >23</text>
<text x="716.8" y="115.2" font-size="6.8" font-family="Liberation Serif, Noto Serif CJK SC, serif" fill="#00ff00" fill-opacity=".8" textLength="33.4" lengthAdjust="spacing">技术特性</text>
<rect x="682.9" y="121.3" width="120.9" height="35.5" stroke="#00ff00" stroke-width="1.1" fill="none" />
<line x1="682.9" y1="128.4" x2="803.8" y2="128.4" stroke="#00ff00" stroke-width="1.1" />
<line x1="682.9" y1="135.5" x2="803.8" y2="135.5" stroke="#00ff00" stroke-width="1.1" />
<line x1="682.9" y1="142.6" x2="803.8" y2="142.6" stroke="#00ff00" stroke-width="1.1" />
<line x1="682.9" y1="149.7" x2="803.8" y2="149.7" stroke="#00ff00" stroke-width="1.1" />
<line x1="743.3" y1="121.3" x2="743.3" y2="156.8" stroke="#00ff00" stroke-width="1" />
<text x="702.4" y="127" font-size="5" fill="#00ff00" text-anchor="start" textLength="14.5" lengthAdjust="spacingAndGlyphs" fill-opacity="0.6" >1. 流量</text>
<text x="731.7" y="127" font-size="5" fill="#00ff00" text-anchor="start" textLength="10.5" lengthAdjust="spacingAndGlyphs" fill-opacity="0.6" >90m³/h</text>
<text x="702.4" y="134.1" font-size="5" fill="#00ff00" text-anchor="start" textLength="14.5" lengthAdjust="spacingAndGlyphs" fill-opacity="0.6" >2. 扬程</text>
<text x="731.7" y="134.1" font-size="5" fill="#00ff00" text-anchor="start" textLength="17" lengthAdjust="spacingAndGlyphs" fill-opacity="0.6" >128m(3级)</text>
<text x="702.4" y="141.2" font-size="5" fill="#00ff00" text-anchor="start" textLength="14.5" lengthAdjust="spacingAndGlyphs" fill-opacity="0.6" >3. 转速</text>
<text x="731.7" y="141.2" font-size="5" fill="#00ff00" text-anchor="start" textLength="16" lengthAdjust="spacingAndGlyphs" fill-opacity="0.6" >1480r/min</text>
<text x="702.4" y="148.3" font-size="5" fill="#00ff00" text-anchor="start" textLength="14.5" lengthAdjust="spacingAndGlyphs" fill-opacity="0.6" >4. 效率</text>
<text x="731.7" y="148.3" font-size="5" fill="#00ff00" text-anchor="start" textLength="9.5" lengthAdjust="spacingAndGlyphs" fill-opacity="0.6" >≥68%</text>
<text x="702.4" y="155.4" font-size="5" fill="#00ff00" text-anchor="start" textLength="14.5" lengthAdjust="spacingAndGlyphs" fill-opacity="0.6" >5. 功率</text>
<text x="731.7" y="155.4" font-size="5" fill="#00ff00" text-anchor="start" textLength="17" lengthAdjust="spacingAndGlyphs" fill-opacity="0.6" >75kW(配套)</text>
<text x="766.5" y="126" font-size="3" fill="#00ff00" text-anchor="start" fill-opacity="0.5" >1</text>
<text x="353.2" y="500.3" font-size="7" font-family="Liberation Serif, Noto Serif CJK SC, serif" fill="#00ff00" fill-opacity=".8" textLength="33.2" lengthAdjust="spacing">技术要求</text>
<text x="335.8" y="512.7" font-size="5" fill="#00ff00" text-anchor="start" textLength="76.8" lengthAdjust="spacingAndGlyphs" fill-opacity="0.62" >1. 装配前零件必须将毛刺清除并清洗干净;</text>
<text x="335.8" y="519.7" font-size="5" fill="#00ff00" text-anchor="start" textLength="174.4" lengthAdjust="spacingAndGlyphs" fill-opacity="0.62" >2. 轴承装配时应保证油脂清洁干净,滚动轴承的最高温度不超过120℃,滑动轴承必须充满油脂;</text>
<text x="335.8" y="526.7" font-size="5" fill="#00ff00" text-anchor="start" textLength="78.8" lengthAdjust="spacingAndGlyphs" fill-opacity="0.62" >3. 叶轮与密封环间隙为0.8±0.1mm之间;</text>
<text x="335.8" y="533.7" font-size="5" fill="#00ff00" text-anchor="start" textLength="125.4" lengthAdjust="spacingAndGlyphs" fill-opacity="0.62" >4. 填料压盖与轴套间隙为0.5mm,总间隙为0.6±0.1mm;</text>
<text x="335.8" y="540.7" font-size="5" fill="#00ff00" text-anchor="start" textLength="118.2" lengthAdjust="spacingAndGlyphs" fill-opacity="0.62" >5. 装配完毕后转动联轴器应手感均匀无卡阻现象;</text>
<text x="335.8" y="547.7" font-size="5" fill="#00ff00" text-anchor="start" textLength="84.4" lengthAdjust="spacingAndGlyphs" fill-opacity="0.62" >6. 轴承润滑油牌号按YB1412-75的20号油。</text>
<line x1="703" y1="300.91" x2="829.6" y2="300.91" stroke="#00ff00" stroke-width="1.05" />
<line x1="703" y1="305.81" x2="829.6" y2="305.81" stroke="#00ff00" stroke-width="1.05" />
<line x1="703" y1="310.72" x2="829.6" y2="310.72" stroke="#00ff00" stroke-width="1.05" />
<line x1="703" y1="315.62" x2="829.6" y2="315.62" stroke="#00ff00" stroke-width="1.05" />
<line x1="703" y1="320.53" x2="829.6" y2="320.53" stroke="#00ff00" stroke-width="1.05" />
<line x1="703" y1="325.44" x2="829.6" y2="325.44" stroke="#00ff00" stroke-width="1.05" />
<line x1="703" y1="330.34" x2="829.6" y2="330.34" stroke="#00ff00" stroke-width="1.05" />
<line x1="703" y1="335.25" x2="829.6" y2="335.25" stroke="#00ff00" stroke-width="1.05" />
<line x1="703" y1="340.16" x2="829.6" y2="340.16" stroke="#00ff00" stroke-width="1.05" />
<line x1="703" y1="345.06" x2="829.6" y2="345.06" stroke="#00ff00" stroke-width="1.05" />
<line x1="703" y1="349.97" x2="829.6" y2="349.97" stroke="#00ff00" stroke-width="1.05" />
<line x1="703" y1="354.87" x2="829.6" y2="354.87" stroke="#00ff00" stroke-width="1.05" />
<line x1="703" y1="359.78" x2="829.6" y2="359.78" stroke="#00ff00" stroke-width="1.05" />
<line x1="703" y1="364.69" x2="829.6" y2="364.69" stroke="#00ff00" stroke-width="1.05" />
<line x1="703" y1="369.59" x2="829.6" y2="369.59" stroke="#00ff00" stroke-width="1.05" />
<line x1="703" y1="374.5" x2="829.6" y2="374.5" stroke="#00ff00" stroke-width="1.05" />
<line x1="703" y1="379.4" x2="829.6" y2="379.4" stroke="#00ff00" stroke-width="1.05" />
<line x1="703" y1="384.31" x2="829.6" y2="384.31" stroke="#00ff00" stroke-width="1.05" />
<line x1="703" y1="389.22" x2="829.6" y2="389.22" stroke="#00ff00" stroke-width="1.05" />
<line x1="703" y1="394.12" x2="829.6" y2="394.12" stroke="#00ff00" stroke-width="1.05" />
<line x1="703" y1="399.03" x2="829.6" y2="399.03" stroke="#00ff00" stroke-width="1.05" />
<line x1="703" y1="403.93" x2="829.6" y2="403.93" stroke="#00ff00" stroke-width="1.05" />
<line x1="703" y1="408.84" x2="829.6" y2="408.84" stroke="#00ff00" stroke-width="1.05" />
<line x1="703" y1="413.75" x2="829.6" y2="413.75" stroke="#00ff00" stroke-width="1.05" />
<line x1="703" y1="418.65" x2="829.6" y2="418.65" stroke="#00ff00" stroke-width="1.05" />
<line x1="703" y1="423.56" x2="829.6" y2="423.56" stroke="#00ff00" stroke-width="1.05" />
<line x1="703" y1="428.47" x2="829.6" y2="428.47" stroke="#00ff00" stroke-width="1.05" />
<line x1="703" y1="433.37" x2="829.6" y2="433.37" stroke="#00ff00" stroke-width="1.05" />
<line x1="703" y1="438.28" x2="829.6" y2="438.28" stroke="#00ff00" stroke-width="1.05" />
<line x1="703" y1="443.18" x2="829.6" y2="443.18" stroke="#00ff00" stroke-width="1.05" />
<line x1="703" y1="448.09" x2="829.6" y2="448.09" stroke="#00ff00" stroke-width="1.05" />
<line x1="703" y1="453" x2="829.6" y2="453" stroke="#00ff00" stroke-width="1.05" />
<line x1="703" y1="457.9" x2="829.6" y2="457.9" stroke="#00ff00" stroke-width="1.05" />
<line x1="703" y1="462.81" x2="829.6" y2="462.81" stroke="#00ff00" stroke-width="1.05" />
<line x1="703" y1="467.71" x2="829.6" y2="467.71" stroke="#00ff00" stroke-width="1.05" />
<line x1="703" y1="472.62" x2="829.6" y2="472.62" stroke="#00ff00" stroke-width="1.05" />
<line x1="703" y1="477.53" x2="829.6" y2="477.53" stroke="#00ff00" stroke-width="1.05" />
<line x1="703" y1="482.43" x2="829.6" y2="482.43" stroke="#00ff00" stroke-width="1.05" />
<line x1="703" y1="487.34" x2="829.6" y2="487.34" stroke="#00ff00" stroke-width="1.05" />
<line x1="703" y1="492.24" x2="829.6" y2="492.24" stroke="#00ff00" stroke-width="1.05" />
<line x1="703" y1="497.15" x2="829.6" y2="497.15" stroke="#00ff00" stroke-width="1.05" />
<line x1="703" y1="502.06" x2="829.6" y2="502.06" stroke="#00ff00" stroke-width="1.05" />
<line x1="703" y1="506.96" x2="829.6" y2="506.96" stroke="#00ff00" stroke-width="1.05" />
<line x1="703" y1="511.87" x2="829.6" y2="511.87" stroke="#00ff00" stroke-width="1.05" />
<line x1="703" y1="516.78" x2="829.6" y2="516.78" stroke="#00ff00" stroke-width="1.05" />
<line x1="703" y1="521.68" x2="829.6" y2="521.68" stroke="#00ff00" stroke-width="1.05" />
<line x1="703" y1="526.59" x2="829.6" y2="526.59" stroke="#00ff00" stroke-width="1.05" />
<line x1="703" y1="531.49" x2="829.6" y2="531.49" stroke="#00ff00" stroke-width="1.05" />
<line x1="708.9" y1="296" x2="708.9" y2="536.4" stroke="#00ff00" stroke-width="0.5" />
<line x1="737.2" y1="296" x2="737.2" y2="536.4" stroke="#00ff00" stroke-width="1" />
<line x1="768.1" y1="296" x2="768.1" y2="536.4" stroke="#00ff00" stroke-width="1" />
<line x1="773.1" y1="296" x2="773.1" y2="536.4" stroke="#00ff00" stroke-width="1" />
<line x1="800.5" y1="296" x2="800.5" y2="536.4" stroke="#00ff00" stroke-width="1" />
<line x1="807.5" y1="296" x2="807.5" y2="536.4" stroke="#00ff00" stroke-width="1" />
<line x1="815.2" y1="296" x2="815.2" y2="536.4" stroke="#00ff00" stroke-width="1" />
<text x="703.9" y="300.2" font-size="4.3" fill="#ffffff" text-anchor="start" textLength="4.1" lengthAdjust="spacingAndGlyphs" fill-opacity="0.92" >49</text>
<text x="712.6" y="300.2" font-size="4.3" fill="#ffffff" text-anchor="start" textLength="17.1" lengthAdjust="spacingAndGlyphs" fill-opacity="0.88" >GB 97-85</text>
<text x="741.5" y="300.2" font-size="4.2" fill="#00ff00" text-anchor="start" textLength="16.5" lengthAdjust="spacingAndGlyphs" fill-opacity="0.68" >垫圈 16</text>
<text x="770.6" y="300.2" font-size="4.2" fill="#00ff00" text-anchor="middle" fill-opacity="0.68" >4</text>
<text x="779" y="300.2" font-size="4.2" fill="#00ff00" text-anchor="start" textLength="10.2" lengthAdjust="spacingAndGlyphs" fill-opacity="0.68" >Q235</text>
<text x="703.9" y="305.11" font-size="4.3" fill="#ffffff" text-anchor="start" textLength="4.1" lengthAdjust="spacingAndGlyphs" fill-opacity="0.92" >48</text>
<text x="712.6" y="305.11" font-size="4.3" fill="#ffffff" text-anchor="start" textLength="21" lengthAdjust="spacingAndGlyphs" fill-opacity="0.88" >GB/T 70-85</text>
<text x="741.5" y="305.11" font-size="4.2" fill="#00ff00" text-anchor="start" textLength="16.5" lengthAdjust="spacingAndGlyphs" fill-opacity="0.68" >内六角螺钉</text>
<text x="770.6" y="305.11" font-size="4.2" fill="#00ff00" text-anchor="middle" fill-opacity="0.68" >4</text>
<text x="779" y="305.11" font-size="4.2" fill="#00ff00" text-anchor="start" textLength="5.6" lengthAdjust="spacingAndGlyphs" fill-opacity="0.68" >35</text>
<text x="703.9" y="310.01" font-size="4.3" fill="#ffffff" text-anchor="start" textLength="4.1" lengthAdjust="spacingAndGlyphs" fill-opacity="0.92" >47</text>
<text x="712.6" y="310.01" font-size="4.3" fill="#ffffff" text-anchor="start" textLength="21" lengthAdjust="spacingAndGlyphs" fill-opacity="0.88" >GB 1096-79</text>
<text x="741.5" y="310.01" font-size="4.2" fill="#00ff00" text-anchor="start" textLength="24" lengthAdjust="spacingAndGlyphs" fill-opacity="0.68" >平键 12×70</text>
<text x="770.6" y="310.01" font-size="4.2" fill="#00ff00" text-anchor="middle" fill-opacity="0.68" >1</text>
<text x="779" y="310.01" font-size="4.2" fill="#00ff00" text-anchor="start" textLength="5.6" lengthAdjust="spacingAndGlyphs" fill-opacity="0.68" >45</text>
<text x="703.9" y="314.92" font-size="4.3" fill="#ffffff" text-anchor="start" textLength="4.1" lengthAdjust="spacingAndGlyphs" fill-opacity="0.92" >46</text>
<text x="712.6" y="314.92" font-size="4.3" fill="#ffffff" text-anchor="start" textLength="9.3" lengthAdjust="spacingAndGlyphs" fill-opacity="0.88" >LB43</text>
<text x="741.5" y="314.92" font-size="4.2" fill="#00ff00" text-anchor="start" textLength="10.3" lengthAdjust="spacingAndGlyphs" fill-opacity="0.68" >皮带轮</text>
<text x="770.6" y="314.92" font-size="4.2" fill="#00ff00" text-anchor="middle" fill-opacity="0.68" >1</text>
<text x="779" y="314.92" font-size="4.2" fill="#00ff00" text-anchor="start" textLength="12.5" lengthAdjust="spacingAndGlyphs" fill-opacity="0.68" >HT200</text>
<text x="703.9" y="319.82" font-size="4.3" fill="#ffffff" text-anchor="start" textLength="4.1" lengthAdjust="spacingAndGlyphs" fill-opacity="0.92" >45</text>
<text x="712.6" y="319.82" font-size="4.3" fill="#ffffff" text-anchor="start" textLength="9.3" lengthAdjust="spacingAndGlyphs" fill-opacity="0.88" >LB42</text>
<text x="741.5" y="319.82" font-size="4.2" fill="#00ff00" text-anchor="start" textLength="10.3" lengthAdjust="spacingAndGlyphs" fill-opacity="0.68" >轴承盖</text>
<text x="770.6" y="319.82" font-size="4.2" fill="#00ff00" text-anchor="middle" fill-opacity="0.68" >1</text>
<text x="779" y="319.82" font-size="4.2" fill="#00ff00" text-anchor="start" textLength="12.5" lengthAdjust="spacingAndGlyphs" fill-opacity="0.68" >HT200</text>
<text x="703.9" y="324.73" font-size="4.3" fill="#ffffff" text-anchor="start" textLength="4.1" lengthAdjust="spacingAndGlyphs" fill-opacity="0.92" >44</text>
<text x="712.6" y="324.73" font-size="4.3" fill="#ffffff" text-anchor="start" textLength="19.05" lengthAdjust="spacingAndGlyphs" fill-opacity="0.88" >GB1235-76</text>
<text x="741.5" y="324.73" font-size="4.2" fill="#00ff00" text-anchor="start" textLength="16.5" lengthAdjust="spacingAndGlyphs" fill-opacity="0.68" >O形密封圈</text>
<text x="770.6" y="324.73" font-size="4.2" fill="#00ff00" text-anchor="middle" fill-opacity="0.68" >2</text>
<text x="779" y="324.73" font-size="4.2" fill="#00ff00" text-anchor="start" textLength="5.6" lengthAdjust="spacingAndGlyphs" fill-opacity="0.68" >橡胶</text>
<text x="703.9" y="329.64" font-size="4.3" fill="#ffffff" text-anchor="start" textLength="4.1" lengthAdjust="spacingAndGlyphs" fill-opacity="0.92" >43</text>
<text x="712.6" y="329.64" font-size="4.3" fill="#ffffff" text-anchor="start" textLength="9.3" lengthAdjust="spacingAndGlyphs" fill-opacity="0.88" >LB41</text>
<text x="741.5" y="329.64" font-size="4.2" fill="#00ff00" text-anchor="start" textLength="10.3" lengthAdjust="spacingAndGlyphs" fill-opacity="0.68" >挡水圈</text>
<text x="770.6" y="329.64" font-size="4.2" fill="#00ff00" text-anchor="middle" fill-opacity="0.68" >1</text>
<text x="779" y="329.64" font-size="4.2" fill="#00ff00" text-anchor="start" textLength="5.6" lengthAdjust="spacingAndGlyphs" fill-opacity="0.68" >橡胶</text>
<text x="703.9" y="334.54" font-size="4.3" fill="#ffffff" text-anchor="start" textLength="4.1" lengthAdjust="spacingAndGlyphs" fill-opacity="0.92" >42</text>
<text x="712.6" y="334.54" font-size="4.3" fill="#ffffff" text-anchor="start" textLength="9.3" lengthAdjust="spacingAndGlyphs" fill-opacity="0.88" >LB40</text>
<text x="741.5" y="334.54" font-size="4.2" fill="#00ff00" text-anchor="start" textLength="13.4" lengthAdjust="spacingAndGlyphs" fill-opacity="0.68" >填料压盖</text>
<text x="770.6" y="334.54" font-size="4.2" fill="#00ff00" text-anchor="middle" fill-opacity="0.68" >1</text>
<text x="779" y="334.54" font-size="4.2" fill="#00ff00" text-anchor="start" textLength="12.5" lengthAdjust="spacingAndGlyphs" fill-opacity="0.68" >HT200</text>
<text x="703.9" y="339.45" font-size="4.3" fill="#ffffff" text-anchor="start" textLength="4.1" lengthAdjust="spacingAndGlyphs" fill-opacity="0.92" >41</text>
<text x="712.6" y="339.45" font-size="4.3" fill="#ffffff" text-anchor="start" textLength="9.3" lengthAdjust="spacingAndGlyphs" fill-opacity="0.88" >LB39</text>
<text x="741.5" y="339.45" font-size="4.2" fill="#00ff00" text-anchor="start" textLength="7.2" lengthAdjust="spacingAndGlyphs" fill-opacity="0.68" >填料</text>
<text x="770.6" y="339.45" font-size="4.2" fill="#00ff00" text-anchor="middle" fill-opacity="0.68" >1</text>
<text x="779" y="339.45" font-size="4.2" fill="#00ff00" text-anchor="start" textLength="12.5" lengthAdjust="spacingAndGlyphs" fill-opacity="0.68" >石棉盘根Ⅱ</text>
<text x="703.9" y="344.36" font-size="4.3" fill="#ffffff" text-anchor="start" textLength="4.1" lengthAdjust="spacingAndGlyphs" fill-opacity="0.92" >40</text>
<text x="712.6" y="344.36" font-size="4.3" fill="#ffffff" text-anchor="start" textLength="21" lengthAdjust="spacingAndGlyphs" fill-opacity="0.88" >GB 5782-86</text>
<text x="741.5" y="344.36" font-size="4.2" fill="#00ff00" text-anchor="start" textLength="19.6" lengthAdjust="spacingAndGlyphs" fill-opacity="0.68" >螺栓 M16</text>
<text x="770.6" y="344.36" font-size="4.2" fill="#00ff00" text-anchor="middle" fill-opacity="0.68" >8</text>
<text x="779" y="344.36" font-size="4.2" fill="#00ff00" text-anchor="start" textLength="5.6" lengthAdjust="spacingAndGlyphs" fill-opacity="0.68" >35</text>
<text x="703.9" y="349.26" font-size="4.3" fill="#ffffff" text-anchor="start" textLength="4.1" lengthAdjust="spacingAndGlyphs" fill-opacity="0.92" >39</text>
<text x="712.6" y="349.26" font-size="4.3" fill="#ffffff" text-anchor="start" textLength="17.1" lengthAdjust="spacingAndGlyphs" fill-opacity="0.88" >GB 93-87</text>
<text x="741.5" y="349.26" font-size="4.2" fill="#00ff00" text-anchor="start" textLength="22.7" lengthAdjust="spacingAndGlyphs" fill-opacity="0.68" >弹簧垫圈 16</text>
<text x="770.6" y="349.26" font-size="4.2" fill="#00ff00" text-anchor="middle" fill-opacity="0.68" >8</text>
<text x="779" y="349.26" font-size="4.2" fill="#00ff00" text-anchor="start" textLength="10.2" lengthAdjust="spacingAndGlyphs" fill-opacity="0.68" >65Mn</text>
<text x="703.9" y="354.17" font-size="4.3" fill="#ffffff" text-anchor="start" textLength="4.1" lengthAdjust="spacingAndGlyphs" fill-opacity="0.92" >38</text>
<text x="712.6" y="354.17" font-size="4.3" fill="#ffffff" text-anchor="start" textLength="21" lengthAdjust="spacingAndGlyphs" fill-opacity="0.88" >GB 6170-86</text>
<text x="741.5" y="354.17" font-size="4.2" fill="#00ff00" text-anchor="start" textLength="24" lengthAdjust="spacingAndGlyphs" fill-opacity="0.68" >六角螺母 M16×70</text>
<text x="770.6" y="354.17" font-size="4.2" fill="#00ff00" text-anchor="middle" fill-opacity="0.68" >8</text>
<text x="779" y="354.17" font-size="4.2" fill="#00ff00" text-anchor="start" textLength="5.6" lengthAdjust="spacingAndGlyphs" fill-opacity="0.68" >35</text>
<text x="703.9" y="359.07" font-size="4.3" fill="#ffffff" text-anchor="start" textLength="4.1" lengthAdjust="spacingAndGlyphs" fill-opacity="0.92" >37</text>
<text x="712.6" y="359.07" font-size="4.3" fill="#ffffff" text-anchor="start" textLength="9.3" lengthAdjust="spacingAndGlyphs" fill-opacity="0.88" >LB38</text>
<text x="741.5" y="359.07" font-size="4.2" fill="#00ff00" text-anchor="start" textLength="7.2" lengthAdjust="spacingAndGlyphs" fill-opacity="0.68" >泵盖</text>
<text x="770.6" y="359.07" font-size="4.2" fill="#00ff00" text-anchor="middle" fill-opacity="0.68" >1</text>
<text x="779" y="359.07" font-size="4.2" fill="#00ff00" text-anchor="start" textLength="12.5" lengthAdjust="spacingAndGlyphs" fill-opacity="0.68" >HT200</text>
<text x="703.9" y="363.98" font-size="4.3" fill="#ffffff" text-anchor="start" textLength="4.1" lengthAdjust="spacingAndGlyphs" fill-opacity="0.92" >36</text>
<text x="712.6" y="363.98" font-size="4.3" fill="#ffffff" text-anchor="start" textLength="9.3" lengthAdjust="spacingAndGlyphs" fill-opacity="0.88" >LB37</text>
<text x="741.5" y="363.98" font-size="4.2" fill="#00ff00" text-anchor="start" textLength="10.3" lengthAdjust="spacingAndGlyphs" fill-opacity="0.68" >水封环</text>
<text x="770.6" y="363.98" font-size="4.2" fill="#00ff00" text-anchor="middle" fill-opacity="0.68" >1</text>
<text x="779" y="363.98" font-size="4.2" fill="#00ff00" text-anchor="start" textLength="12.5" lengthAdjust="spacingAndGlyphs" fill-opacity="0.68" >HT200</text>
<text x="703.9" y="368.89" font-size="4.3" fill="#ffffff" text-anchor="start" textLength="4.1" lengthAdjust="spacingAndGlyphs" fill-opacity="0.92" >35</text>
<text x="712.6" y="368.89" font-size="4.3" fill="#ffffff" text-anchor="start" textLength="17.1" lengthAdjust="spacingAndGlyphs" fill-opacity="0.88" >GB 93-87</text>
<text x="741.5" y="368.89" font-size="4.2" fill="#00ff00" text-anchor="start" textLength="22.7" lengthAdjust="spacingAndGlyphs" fill-opacity="0.68" >弹簧垫圈 12</text>
<text x="770.6" y="368.89" font-size="4.2" fill="#00ff00" text-anchor="middle" fill-opacity="0.68" >4</text>
<text x="779" y="368.89" font-size="4.2" fill="#00ff00" text-anchor="start" textLength="10.2" lengthAdjust="spacingAndGlyphs" fill-opacity="0.68" >65Mn</text>
<text x="703.9" y="373.79" font-size="4.3" fill="#ffffff" text-anchor="start" textLength="4.1" lengthAdjust="spacingAndGlyphs" fill-opacity="0.92" >34</text>
<text x="712.6" y="373.79" font-size="4.3" fill="#ffffff" text-anchor="start" textLength="17.1" lengthAdjust="spacingAndGlyphs" fill-opacity="0.88" >GB 70-85</text>
<text x="741.5" y="373.79" font-size="4.2" fill="#00ff00" text-anchor="start" textLength="24" lengthAdjust="spacingAndGlyphs" fill-opacity="0.68" >内六角圆柱头螺钉</text>
<text x="770.6" y="373.79" font-size="4.2" fill="#00ff00" text-anchor="middle" fill-opacity="0.68" >4</text>
<text x="779" y="373.79" font-size="4.2" fill="#00ff00" text-anchor="start" textLength="5.6" lengthAdjust="spacingAndGlyphs" fill-opacity="0.68" >35</text>
<text x="703.9" y="378.7" font-size="4.3" fill="#ffffff" text-anchor="start" textLength="4.1" lengthAdjust="spacingAndGlyphs" fill-opacity="0.92" >33</text>
<text x="712.6" y="378.7" font-size="4.3" fill="#ffffff" text-anchor="start" textLength="21" lengthAdjust="spacingAndGlyphs" fill-opacity="0.88" >GB 5782-86</text>
<text x="741.5" y="378.7" font-size="4.2" fill="#00ff00" text-anchor="start" textLength="24" lengthAdjust="spacingAndGlyphs" fill-opacity="0.68" >螺栓 M12×45</text>
<text x="770.6" y="378.7" font-size="4.2" fill="#00ff00" text-anchor="middle" fill-opacity="0.68" >4</text>
<text x="779" y="378.7" font-size="4.2" fill="#00ff00" text-anchor="start" textLength="5.6" lengthAdjust="spacingAndGlyphs" fill-opacity="0.68" >35</text>
<text x="703.9" y="383.6" font-size="4.3" fill="#ffffff" text-anchor="start" textLength="4.1" lengthAdjust="spacingAndGlyphs" fill-opacity="0.92" >32</text>
<text x="712.6" y="383.6" font-size="4.3" fill="#ffffff" text-anchor="start" textLength="21" lengthAdjust="spacingAndGlyphs" fill-opacity="0.88" >GB1235-76-S</text>
<text x="741.5" y="383.6" font-size="4.2" fill="#00ff00" text-anchor="start" textLength="16.5" lengthAdjust="spacingAndGlyphs" fill-opacity="0.68" >O形密封圈</text>
<text x="770.6" y="383.6" font-size="4.2" fill="#00ff00" text-anchor="middle" fill-opacity="0.68" >1</text>
<text x="779" y="383.6" font-size="4.2" fill="#00ff00" text-anchor="start" textLength="5.6" lengthAdjust="spacingAndGlyphs" fill-opacity="0.68" >橡胶</text>
<text x="703.9" y="388.51" font-size="4.3" fill="#ffffff" text-anchor="start" textLength="4.1" lengthAdjust="spacingAndGlyphs" fill-opacity="0.92" >31</text>
<text x="712.6" y="388.51" font-size="4.3" fill="#ffffff" text-anchor="start" textLength="9.3" lengthAdjust="spacingAndGlyphs" fill-opacity="0.88" >LB36</text>
<text x="741.5" y="388.51" font-size="4.2" fill="#00ff00" text-anchor="start" textLength="7.2" lengthAdjust="spacingAndGlyphs" fill-opacity="0.68" >泵体</text>
<text x="770.6" y="388.51" font-size="4.2" fill="#00ff00" text-anchor="middle" fill-opacity="0.68" >1</text>
<text x="779" y="388.51" font-size="4.2" fill="#00ff00" text-anchor="start" textLength="12.5" lengthAdjust="spacingAndGlyphs" fill-opacity="0.68" >HT200</text>
<text x="703.9" y="393.42" font-size="4.3" fill="#ffffff" text-anchor="start" textLength="4.1" lengthAdjust="spacingAndGlyphs" fill-opacity="0.92" >30</text>
<text x="712.6" y="393.42" font-size="4.3" fill="#ffffff" text-anchor="start" textLength="9.3" lengthAdjust="spacingAndGlyphs" fill-opacity="0.88" >LB35</text>
<text x="741.5" y="393.42" font-size="4.2" fill="#00ff00" text-anchor="start" textLength="13.4" lengthAdjust="spacingAndGlyphs" fill-opacity="0.68" >双头螺柱</text>
<text x="770.6" y="393.42" font-size="4.2" fill="#00ff00" text-anchor="middle" fill-opacity="0.68" >8</text>
<text x="779" y="393.42" font-size="4.2" fill="#00ff00" text-anchor="start" textLength="5.6" lengthAdjust="spacingAndGlyphs" fill-opacity="0.68" >35</text>
<text x="703.9" y="398.32" font-size="4.3" fill="#ffffff" text-anchor="start" textLength="4.1" lengthAdjust="spacingAndGlyphs" fill-opacity="0.92" >29</text>
<text x="712.6" y="398.32" font-size="4.3" fill="#ffffff" text-anchor="start" textLength="9.3" lengthAdjust="spacingAndGlyphs" fill-opacity="0.88" >LB34</text>
<text x="741.5" y="398.32" font-size="4.2" fill="#00ff00" text-anchor="start" textLength="7.2" lengthAdjust="spacingAndGlyphs" fill-opacity="0.68" >叶轮</text>
<text x="770.6" y="398.32" font-size="4.2" fill="#00ff00" text-anchor="middle" fill-opacity="0.68" >1</text>
<text x="779" y="398.32" font-size="4.2" fill="#00ff00" text-anchor="start" textLength="12.5" lengthAdjust="spacingAndGlyphs" fill-opacity="0.68" >HT200</text>
<text x="703.9" y="403.23" font-size="4.3" fill="#ffffff" text-anchor="start" textLength="4.1" lengthAdjust="spacingAndGlyphs" fill-opacity="0.92" >28</text>
<text x="712.6" y="403.23" font-size="4.3" fill="#ffffff" text-anchor="start" textLength="21" lengthAdjust="spacingAndGlyphs" fill-opacity="0.88" >GB 6170-86</text>
<text x="741.5" y="403.23" font-size="4.2" fill="#00ff00" text-anchor="start" textLength="13.4" lengthAdjust="spacingAndGlyphs" fill-opacity="0.68" >六角螺母</text>
<text x="770.6" y="403.23" font-size="4.2" fill="#00ff00" text-anchor="middle" fill-opacity="0.68" >12</text>
<text x="779" y="403.23" font-size="4.2" fill="#00ff00" text-anchor="start" textLength="5.6" lengthAdjust="spacingAndGlyphs" fill-opacity="0.68" >35</text>
<text x="703.9" y="408.13" font-size="4.3" fill="#ffffff" text-anchor="start" textLength="4.1" lengthAdjust="spacingAndGlyphs" fill-opacity="0.92" >27</text>
<text x="712.6" y="408.13" font-size="4.3" fill="#ffffff" text-anchor="start" textLength="17.1" lengthAdjust="spacingAndGlyphs" fill-opacity="0.88" >GB 93-87</text>
<text x="741.5" y="408.13" font-size="4.2" fill="#00ff00" text-anchor="start" textLength="13.4" lengthAdjust="spacingAndGlyphs" fill-opacity="0.68" >弹簧垫圈</text>
<text x="770.6" y="408.13" font-size="4.2" fill="#00ff00" text-anchor="middle" fill-opacity="0.68" >12</text>
<text x="779" y="408.13" font-size="4.2" fill="#00ff00" text-anchor="start" textLength="10.2" lengthAdjust="spacingAndGlyphs" fill-opacity="0.68" >65Mn</text>
<text x="703.9" y="413.04" font-size="4.3" fill="#ffffff" text-anchor="start" textLength="4.1" lengthAdjust="spacingAndGlyphs" fill-opacity="0.92" >26</text>
<text x="712.6" y="413.04" font-size="4.3" fill="#ffffff" text-anchor="start" textLength="21" lengthAdjust="spacingAndGlyphs" fill-opacity="0.88" >GB 5782-86</text>
<text x="741.5" y="413.04" font-size="4.2" fill="#00ff00" text-anchor="start" textLength="24" lengthAdjust="spacingAndGlyphs" fill-opacity="0.68" >螺栓 M20×90</text>
<text x="770.6" y="413.04" font-size="4.2" fill="#00ff00" text-anchor="middle" fill-opacity="0.68" >12</text>
<text x="779" y="413.04" font-size="4.2" fill="#00ff00" text-anchor="start" textLength="5.6" lengthAdjust="spacingAndGlyphs" fill-opacity="0.68" >35</text>
<text x="703.9" y="417.95" font-size="4.3" fill="#ffffff" text-anchor="start" textLength="4.1" lengthAdjust="spacingAndGlyphs" fill-opacity="0.92" >25</text>
<text x="712.6" y="417.95" font-size="4.3" fill="#ffffff" text-anchor="start" textLength="9.3" lengthAdjust="spacingAndGlyphs" fill-opacity="0.88" >LB33</text>
<text x="741.5" y="417.95" font-size="4.2" fill="#00ff00" text-anchor="start" textLength="10.3" lengthAdjust="spacingAndGlyphs" fill-opacity="0.68" >密封环</text>
<text x="770.6" y="417.95" font-size="4.2" fill="#00ff00" text-anchor="middle" fill-opacity="0.68" >1</text>
<text x="779" y="417.95" font-size="4.2" fill="#00ff00" text-anchor="start" textLength="12.5" lengthAdjust="spacingAndGlyphs" fill-opacity="0.68" >HT200</text>
<text x="703.9" y="422.85" font-size="4.3" fill="#ffffff" text-anchor="start" textLength="4.1" lengthAdjust="spacingAndGlyphs" fill-opacity="0.92" >24</text>
<text x="712.6" y="422.85" font-size="4.3" fill="#ffffff" text-anchor="start" textLength="9.3" lengthAdjust="spacingAndGlyphs" fill-opacity="0.88" >LB32</text>
<text x="741.5" y="422.85" font-size="4.2" fill="#00ff00" text-anchor="start" textLength="13.4" lengthAdjust="spacingAndGlyphs" fill-opacity="0.68" >叶轮螺母</text>
<text x="770.6" y="422.85" font-size="4.2" fill="#00ff00" text-anchor="middle" fill-opacity="0.68" >1</text>
<text x="779" y="422.85" font-size="4.2" fill="#00ff00" text-anchor="start" textLength="5.6" lengthAdjust="spacingAndGlyphs" fill-opacity="0.68" >35</text>
<text x="703.9" y="427.76" font-size="4.3" fill="#ffffff" text-anchor="start" textLength="4.1" lengthAdjust="spacingAndGlyphs" fill-opacity="0.92" >23</text>
<text x="712.6" y="427.76" font-size="4.3" fill="#ffffff" text-anchor="start" textLength="19.05" lengthAdjust="spacingAndGlyphs" fill-opacity="0.88" >GB 858-88</text>
<text x="741.5" y="427.76" font-size="4.2" fill="#00ff00" text-anchor="start" textLength="13.4" lengthAdjust="spacingAndGlyphs" fill-opacity="0.68" >止动垫圈</text>
<text x="770.6" y="427.76" font-size="4.2" fill="#00ff00" text-anchor="middle" fill-opacity="0.68" >1</text>
<text x="779" y="427.76" font-size="4.2" fill="#00ff00" text-anchor="start" textLength="10.2" lengthAdjust="spacingAndGlyphs" fill-opacity="0.68" >Q235</text>
<text x="703.9" y="432.67" font-size="4.3" fill="#ffffff" text-anchor="start" textLength="4.1" lengthAdjust="spacingAndGlyphs" fill-opacity="0.92" >22</text>
<text x="712.6" y="432.67" font-size="4.3" fill="#ffffff" text-anchor="start" textLength="9.3" lengthAdjust="spacingAndGlyphs" fill-opacity="0.88" >LB31</text>
<text x="741.5" y="432.67" font-size="4.2" fill="#00ff00" text-anchor="start" textLength="13.4" lengthAdjust="spacingAndGlyphs" fill-opacity="0.68" >叶轮挡套</text>
<text x="770.6" y="432.67" font-size="4.2" fill="#00ff00" text-anchor="middle" fill-opacity="0.68" >1</text>
<text x="779" y="432.67" font-size="4.2" fill="#00ff00" text-anchor="start" textLength="5.6" lengthAdjust="spacingAndGlyphs" fill-opacity="0.68" >45</text>
<text x="703.9" y="437.57" font-size="4.3" fill="#ffffff" text-anchor="start" textLength="4.1" lengthAdjust="spacingAndGlyphs" fill-opacity="0.92" >21</text>
<text x="712.6" y="437.57" font-size="4.3" fill="#ffffff" text-anchor="start" textLength="21" lengthAdjust="spacingAndGlyphs" fill-opacity="0.88" >GB 6170-86</text>
<text x="741.5" y="437.57" font-size="4.2" fill="#00ff00" text-anchor="start" textLength="24" lengthAdjust="spacingAndGlyphs" fill-opacity="0.68" >六角螺母 M20</text>
<text x="770.6" y="437.57" font-size="4.2" fill="#00ff00" text-anchor="middle" fill-opacity="0.68" >4</text>
<text x="779" y="437.57" font-size="4.2" fill="#00ff00" text-anchor="start" textLength="5.6" lengthAdjust="spacingAndGlyphs" fill-opacity="0.68" >35</text>
<text x="703.9" y="442.48" font-size="4.3" fill="#ffffff" text-anchor="start" textLength="4.1" lengthAdjust="spacingAndGlyphs" fill-opacity="0.92" >20</text>
<text x="712.6" y="442.48" font-size="4.3" fill="#ffffff" text-anchor="start" textLength="21" lengthAdjust="spacingAndGlyphs" fill-opacity="0.88" >GB 97.1-85</text>
<text x="741.5" y="442.48" font-size="4.2" fill="#00ff00" text-anchor="start" textLength="19.6" lengthAdjust="spacingAndGlyphs" fill-opacity="0.68" >平垫圈 20</text>
<text x="770.6" y="442.48" font-size="4.2" fill="#00ff00" text-anchor="middle" fill-opacity="0.68" >4</text>
<text x="779" y="442.48" font-size="4.2" fill="#00ff00" text-anchor="start" textLength="10.2" lengthAdjust="spacingAndGlyphs" fill-opacity="0.68" >Q235</text>
<text x="703.9" y="447.38" font-size="4.3" fill="#ffffff" text-anchor="start" textLength="4.1" lengthAdjust="spacingAndGlyphs" fill-opacity="0.92" >19</text>
<text x="712.6" y="447.38" font-size="4.3" fill="#ffffff" text-anchor="start" textLength="9.3" lengthAdjust="spacingAndGlyphs" fill-opacity="0.88" >LB30</text>
<text x="741.5" y="447.38" font-size="4.2" fill="#00ff00" text-anchor="start" textLength="10.3" lengthAdjust="spacingAndGlyphs" fill-opacity="0.68" >进水段</text>
<text x="770.6" y="447.38" font-size="4.2" fill="#00ff00" text-anchor="middle" fill-opacity="0.68" >1</text>
<text x="779" y="447.38" font-size="4.2" fill="#00ff00" text-anchor="start" textLength="12.5" lengthAdjust="spacingAndGlyphs" fill-opacity="0.68" >HT200</text>
<text x="703.9" y="452.29" font-size="4.3" fill="#ffffff" text-anchor="start" textLength="4.1" lengthAdjust="spacingAndGlyphs" fill-opacity="0.92" >18</text>
<text x="712.6" y="452.29" font-size="4.3" fill="#ffffff" text-anchor="start" textLength="9.3" lengthAdjust="spacingAndGlyphs" fill-opacity="0.88" >LB29</text>
<text x="741.5" y="452.29" font-size="4.2" fill="#00ff00" text-anchor="start" textLength="13.4" lengthAdjust="spacingAndGlyphs" fill-opacity="0.68" >放水螺塞</text>
<text x="770.6" y="452.29" font-size="4.2" fill="#00ff00" text-anchor="middle" fill-opacity="0.68" >1</text>
<text x="779" y="452.29" font-size="4.2" fill="#00ff00" text-anchor="start" textLength="10.2" lengthAdjust="spacingAndGlyphs" fill-opacity="0.68" >Q235</text>
<text x="703.9" y="457.2" font-size="4.3" fill="#ffffff" text-anchor="start" textLength="4.1" lengthAdjust="spacingAndGlyphs" fill-opacity="0.92" >17</text>
<text x="712.6" y="457.2" font-size="4.3" fill="#ffffff" text-anchor="start" textLength="21" lengthAdjust="spacingAndGlyphs" fill-opacity="0.88" >GB 1096-79</text>
<text x="741.5" y="457.2" font-size="4.2" fill="#00ff00" text-anchor="start" textLength="24" lengthAdjust="spacingAndGlyphs" fill-opacity="0.68" >平键 10×56</text>
<text x="770.6" y="457.2" font-size="4.2" fill="#00ff00" text-anchor="middle" fill-opacity="0.68" >1</text>
<text x="779" y="457.2" font-size="4.2" fill="#00ff00" text-anchor="start" textLength="5.6" lengthAdjust="spacingAndGlyphs" fill-opacity="0.68" >45</text>
<text x="703.9" y="462.1" font-size="4.3" fill="#ffffff" text-anchor="start" textLength="4.1" lengthAdjust="spacingAndGlyphs" fill-opacity="0.92" >16</text>
<text x="712.6" y="462.1" font-size="4.3" fill="#ffffff" text-anchor="start" textLength="9.3" lengthAdjust="spacingAndGlyphs" fill-opacity="0.88" >LB28</text>
<text x="741.5" y="462.1" font-size="4.2" fill="#00ff00" text-anchor="start" textLength="7.2" lengthAdjust="spacingAndGlyphs" fill-opacity="0.68" >垫片</text>
<text x="770.6" y="462.1" font-size="4.2" fill="#00ff00" text-anchor="middle" fill-opacity="0.68" >1</text>
<text x="779" y="462.1" font-size="4.2" fill="#00ff00" text-anchor="start" textLength="10.2" lengthAdjust="spacingAndGlyphs" fill-opacity="0.68" >石棉橡胶</text>
<text x="703.9" y="467.01" font-size="4.3" fill="#ffffff" text-anchor="start" textLength="4.1" lengthAdjust="spacingAndGlyphs" fill-opacity="0.92" >15</text>
<text x="712.6" y="467.01" font-size="4.3" fill="#ffffff" text-anchor="start" textLength="9.3" lengthAdjust="spacingAndGlyphs" fill-opacity="0.88" >LB27</text>
<text x="741.5" y="467.01" font-size="4.2" fill="#00ff00" text-anchor="start" textLength="7.2" lengthAdjust="spacingAndGlyphs" fill-opacity="0.68" >轴套</text>
<text x="770.6" y="467.01" font-size="4.2" fill="#00ff00" text-anchor="middle" fill-opacity="0.68" >1</text>
<text x="779" y="467.01" font-size="4.2" fill="#00ff00" text-anchor="start" textLength="5.6" lengthAdjust="spacingAndGlyphs" fill-opacity="0.68" >45</text>
<text x="703.9" y="471.91" font-size="4.3" fill="#ffffff" text-anchor="start" textLength="4.1" lengthAdjust="spacingAndGlyphs" fill-opacity="0.92" >14</text>
<text x="712.6" y="471.91" font-size="4.3" fill="#ffffff" text-anchor="start" textLength="21" lengthAdjust="spacingAndGlyphs" fill-opacity="0.88" >GB 5782-86</text>
<text x="741.5" y="471.91" font-size="4.2" fill="#00ff00" text-anchor="start" textLength="24" lengthAdjust="spacingAndGlyphs" fill-opacity="0.68" >螺栓 M16×60</text>
<text x="770.6" y="471.91" font-size="4.2" fill="#00ff00" text-anchor="middle" fill-opacity="0.68" >6</text>
<text x="779" y="471.91" font-size="4.2" fill="#00ff00" text-anchor="start" textLength="5.6" lengthAdjust="spacingAndGlyphs" fill-opacity="0.68" >35</text>
<text x="703.9" y="476.82" font-size="4.3" fill="#ffffff" text-anchor="start" textLength="4.1" lengthAdjust="spacingAndGlyphs" fill-opacity="0.92" >13</text>
<text x="712.6" y="476.82" font-size="4.3" fill="#ffffff" text-anchor="start" textLength="17.1" lengthAdjust="spacingAndGlyphs" fill-opacity="0.88" >GB 93-87</text>
<text x="741.5" y="476.82" font-size="4.2" fill="#00ff00" text-anchor="start" textLength="22.7" lengthAdjust="spacingAndGlyphs" fill-opacity="0.68" >弹簧垫圈 16</text>
<text x="770.6" y="476.82" font-size="4.2" fill="#00ff00" text-anchor="middle" fill-opacity="0.68" >6</text>
<text x="779" y="476.82" font-size="4.2" fill="#00ff00" text-anchor="start" textLength="10.2" lengthAdjust="spacingAndGlyphs" fill-opacity="0.68" >65Mn</text>
<text x="703.9" y="481.73" font-size="4.3" fill="#ffffff" text-anchor="start" textLength="4.1" lengthAdjust="spacingAndGlyphs" fill-opacity="0.92" >12</text>
<text x="712.6" y="481.73" font-size="4.3" fill="#ffffff" text-anchor="start" textLength="21" lengthAdjust="spacingAndGlyphs" fill-opacity="0.88" >GB 6170-86</text>
<text x="741.5" y="481.73" font-size="4.2" fill="#00ff00" text-anchor="start" textLength="24" lengthAdjust="spacingAndGlyphs" fill-opacity="0.68" >六角螺母 M12</text>
<text x="770.6" y="481.73" font-size="4.2" fill="#00ff00" text-anchor="middle" fill-opacity="0.68" >2</text>
<text x="779" y="481.73" font-size="4.2" fill="#00ff00" text-anchor="start" textLength="5.6" lengthAdjust="spacingAndGlyphs" fill-opacity="0.68" >35</text>
<text x="703.9" y="486.63" font-size="4.3" fill="#ffffff" text-anchor="start" textLength="4.1" lengthAdjust="spacingAndGlyphs" fill-opacity="0.92" >11</text>
<text x="712.6" y="486.63" font-size="4.3" fill="#ffffff" text-anchor="start" textLength="9.3" lengthAdjust="spacingAndGlyphs" fill-opacity="0.88" >LB26</text>
<text x="741.5" y="486.63" font-size="4.2" fill="#00ff00" text-anchor="start" textLength="13.4" lengthAdjust="spacingAndGlyphs" fill-opacity="0.68" >压盖螺栓</text>
<text x="770.6" y="486.63" font-size="4.2" fill="#00ff00" text-anchor="middle" fill-opacity="0.68" >2</text>
<text x="779" y="486.63" font-size="4.2" fill="#00ff00" text-anchor="start" textLength="5.6" lengthAdjust="spacingAndGlyphs" fill-opacity="0.68" >35</text>
<text x="703.9" y="491.54" font-size="4.3" fill="#ffffff" text-anchor="start" textLength="4.1" lengthAdjust="spacingAndGlyphs" fill-opacity="0.92" >10</text>
<text x="712.6" y="491.54" font-size="4.3" fill="#ffffff" text-anchor="start" textLength="9.3" lengthAdjust="spacingAndGlyphs" fill-opacity="0.88" >LB25</text>
<text x="741.5" y="491.54" font-size="4.2" fill="#00ff00" text-anchor="start" textLength="10.3" lengthAdjust="spacingAndGlyphs" fill-opacity="0.68" >挡水圈</text>
<text x="770.6" y="491.54" font-size="4.2" fill="#00ff00" text-anchor="middle" fill-opacity="0.68" >1</text>
<text x="779" y="491.54" font-size="4.2" fill="#00ff00" text-anchor="start" textLength="5.6" lengthAdjust="spacingAndGlyphs" fill-opacity="0.68" >橡胶</text>
<text x="703.9" y="496.44" font-size="4.3" fill="#ffffff" text-anchor="start" textLength="4.1" lengthAdjust="spacingAndGlyphs" fill-opacity="0.92" >9</text>
<text x="712.6" y="496.44" font-size="4.3" fill="#ffffff" text-anchor="start" textLength="17.1" lengthAdjust="spacingAndGlyphs" fill-opacity="0.88" >GB 70-85</text>
<text x="741.5" y="496.44" font-size="4.2" fill="#00ff00" text-anchor="start" textLength="24" lengthAdjust="spacingAndGlyphs" fill-opacity="0.68" >内六角螺钉 M8</text>
<text x="770.6" y="496.44" font-size="4.2" fill="#00ff00" text-anchor="middle" fill-opacity="0.68" >8</text>
<text x="779" y="496.44" font-size="4.2" fill="#00ff00" text-anchor="start" textLength="5.6" lengthAdjust="spacingAndGlyphs" fill-opacity="0.68" >35</text>
<text x="703.9" y="501.35" font-size="4.3" fill="#ffffff" text-anchor="start" textLength="4.1" lengthAdjust="spacingAndGlyphs" fill-opacity="0.92" >8</text>
<text x="712.6" y="501.35" font-size="4.3" fill="#ffffff" text-anchor="start" textLength="9.3" lengthAdjust="spacingAndGlyphs" fill-opacity="0.88" >LB24</text>
<text x="741.5" y="501.35" font-size="4.2" fill="#00ff00" text-anchor="start" textLength="13.4" lengthAdjust="spacingAndGlyphs" fill-opacity="0.68" >轴承端盖</text>
<text x="770.6" y="501.35" font-size="4.2" fill="#00ff00" text-anchor="middle" fill-opacity="0.68" >2</text>
<text x="779" y="501.35" font-size="4.2" fill="#00ff00" text-anchor="start" textLength="12.5" lengthAdjust="spacingAndGlyphs" fill-opacity="0.68" >HT200</text>
<text x="703.9" y="506.26" font-size="4.3" fill="#ffffff" text-anchor="start" textLength="4.1" lengthAdjust="spacingAndGlyphs" fill-opacity="0.92" >7</text>
<text x="712.6" y="506.26" font-size="4.3" fill="#ffffff" text-anchor="start" textLength="19.05" lengthAdjust="spacingAndGlyphs" fill-opacity="0.88" >GB 276-89</text>
<text x="741.5" y="506.26" font-size="4.2" fill="#00ff00" text-anchor="start" textLength="24" lengthAdjust="spacingAndGlyphs" fill-opacity="0.68" >深沟球轴承 6312</text>
<text x="770.6" y="506.26" font-size="4.2" fill="#00ff00" text-anchor="middle" fill-opacity="0.68" >2</text>
<text x="703.9" y="511.16" font-size="4.3" fill="#ffffff" text-anchor="start" textLength="4.1" lengthAdjust="spacingAndGlyphs" fill-opacity="0.92" >6</text>
<text x="712.6" y="511.16" font-size="4.3" fill="#ffffff" text-anchor="start" textLength="9.3" lengthAdjust="spacingAndGlyphs" fill-opacity="0.88" >LB23</text>
<text x="741.5" y="511.16" font-size="4.2" fill="#00ff00" text-anchor="start" textLength="7.2" lengthAdjust="spacingAndGlyphs" fill-opacity="0.68" >悬架</text>
<text x="770.6" y="511.16" font-size="4.2" fill="#00ff00" text-anchor="middle" fill-opacity="0.68" >1</text>
<text x="779" y="511.16" font-size="4.2" fill="#00ff00" text-anchor="start" textLength="12.5" lengthAdjust="spacingAndGlyphs" fill-opacity="0.68" >HT200</text>
<text x="703.9" y="516.07" font-size="4.3" fill="#ffffff" text-anchor="start" textLength="4.1" lengthAdjust="spacingAndGlyphs" fill-opacity="0.92" >5</text>
<text x="712.6" y="516.07" font-size="4.3" fill="#ffffff" text-anchor="start" textLength="9.3" lengthAdjust="spacingAndGlyphs" fill-opacity="0.88" >LB22</text>
<text x="741.5" y="516.07" font-size="4.2" fill="#00ff00" text-anchor="start" textLength="4.1" lengthAdjust="spacingAndGlyphs" fill-opacity="0.68" >轴</text>
<text x="770.6" y="516.07" font-size="4.2" fill="#00ff00" text-anchor="middle" fill-opacity="0.68" >1</text>
<text x="779" y="516.07" font-size="4.2" fill="#00ff00" text-anchor="start" textLength="5.6" lengthAdjust="spacingAndGlyphs" fill-opacity="0.68" >45</text>
<text x="703.9" y="520.98" font-size="4.3" fill="#ffffff" text-anchor="start" textLength="4.1" lengthAdjust="spacingAndGlyphs" fill-opacity="0.92" >4</text>
<text x="712.6" y="520.98" font-size="4.3" fill="#ffffff" text-anchor="start" textLength="9.3" lengthAdjust="spacingAndGlyphs" fill-opacity="0.88" >LB21</text>
<text x="741.5" y="520.98" font-size="4.2" fill="#00ff00" text-anchor="start" textLength="7.2" lengthAdjust="spacingAndGlyphs" fill-opacity="0.68" >支架</text>
<text x="770.6" y="520.98" font-size="4.2" fill="#00ff00" text-anchor="middle" fill-opacity="0.68" >1</text>
<text x="779" y="520.98" font-size="4.2" fill="#00ff00" text-anchor="start" textLength="12.5" lengthAdjust="spacingAndGlyphs" fill-opacity="0.68" >HT200</text>
<text x="703.9" y="525.88" font-size="4.3" fill="#ffffff" text-anchor="start" textLength="4.1" lengthAdjust="spacingAndGlyphs" fill-opacity="0.92" >3</text>
<text x="712.6" y="525.88" font-size="4.3" fill="#ffffff" text-anchor="start" textLength="21" lengthAdjust="spacingAndGlyphs" fill-opacity="0.88" >GB 5782-86</text>
<text x="741.5" y="525.88" font-size="4.2" fill="#00ff00" text-anchor="start" textLength="24" lengthAdjust="spacingAndGlyphs" fill-opacity="0.68" >螺栓 M12×40</text>
<text x="770.6" y="525.88" font-size="4.2" fill="#00ff00" text-anchor="middle" fill-opacity="0.68" >2</text>
<text x="779" y="525.88" font-size="4.2" fill="#00ff00" text-anchor="start" textLength="5.6" lengthAdjust="spacingAndGlyphs" fill-opacity="0.68" >35</text>
<text x="703.9" y="530.79" font-size="4.3" fill="#ffffff" text-anchor="start" textLength="4.1" lengthAdjust="spacingAndGlyphs" fill-opacity="0.92" >2</text>
<text x="712.6" y="530.79" font-size="4.3" fill="#ffffff" text-anchor="start" textLength="17.1" lengthAdjust="spacingAndGlyphs" fill-opacity="0.88" >GB 93-87</text>
<text x="741.5" y="530.79" font-size="4.2" fill="#00ff00" text-anchor="start" textLength="22.7" lengthAdjust="spacingAndGlyphs" fill-opacity="0.68" >弹簧垫圈 12</text>
<text x="770.6" y="530.79" font-size="4.2" fill="#00ff00" text-anchor="middle" fill-opacity="0.68" >2</text>
<text x="779" y="530.79" font-size="4.2" fill="#00ff00" text-anchor="start" textLength="10.2" lengthAdjust="spacingAndGlyphs" fill-opacity="0.68" >65Mn</text>
<text x="703.9" y="535.69" font-size="4.3" fill="#ffffff" text-anchor="start" textLength="4.1" lengthAdjust="spacingAndGlyphs" fill-opacity="0.92" >1</text>
<text x="712.6" y="535.69" font-size="4.3" fill="#ffffff" text-anchor="start" textLength="17.1" lengthAdjust="spacingAndGlyphs" fill-opacity="0.88" >LB 00-01</text>
<text x="741.5" y="535.69" font-size="4.2" fill="#00ff00" text-anchor="start" textLength="16.5" lengthAdjust="spacingAndGlyphs" fill-opacity="0.68" >底座连接板</text>
<text x="770.6" y="535.69" font-size="4.2" fill="#00ff00" text-anchor="middle" fill-opacity="0.68" >1</text>
<text x="779" y="535.69" font-size="4.2" fill="#00ff00" text-anchor="start" textLength="10.2" lengthAdjust="spacingAndGlyphs" fill-opacity="0.68" >Q235</text>
<line x1="703" y1="296" x2="829.6" y2="296" stroke="#ffffff" stroke-width="1.7" />
<line x1="703" y1="296" x2="703" y2="585.4" stroke="#ffffff" stroke-width="1.5" />
<line x1="703" y1="536.4" x2="829.6" y2="536.4" stroke="#ffffff" stroke-width="1.3" />
<line x1="703" y1="545.4" x2="829.6" y2="545.4" stroke="#ffffff" stroke-width="1.6" />
<line x1="737.2" y1="536.4" x2="737.2" y2="545.4" stroke="#00ff00" stroke-width="1" />
<line x1="768.1" y1="536.4" x2="768.1" y2="545.4" stroke="#00ff00" stroke-width="1" />
<line x1="800.5" y1="536.4" x2="800.5" y2="545.4" stroke="#00ff00" stroke-width="1" />
<line x1="815.2" y1="536.4" x2="815.2" y2="545.4" stroke="#00ff00" stroke-width="1" />
<line x1="710.9" y1="536.4" x2="710.9" y2="545.4" stroke="#ffffff" stroke-width="0.9" />
<line x1="773.1" y1="536.4" x2="773.1" y2="545.4" stroke="#00ff00" stroke-width="1" />
<line x1="807.5" y1="536.4" x2="807.5" y2="541" stroke="#00ff00" stroke-width="1" />
<line x1="800.5" y1="541" x2="815.2" y2="541" stroke="#00ff00" stroke-width="1" />
<text x="704.2" y="540.8" font-size="3.6" fill="#ffffff" text-anchor="start" fill-opacity="0.8" >序</text>
<text x="704.2" y="544.6" font-size="3.6" fill="#ffffff" text-anchor="start" fill-opacity="0.8" >号</text>
<text x="714" y="543.4" font-size="5.2" fill="#ffffff" text-anchor="start" fill-opacity="0.8" >代</text>
<text x="724.5" y="543.4" font-size="5.2" fill="#ffffff" text-anchor="start" fill-opacity="0.8" >号</text>
<text x="741.5" y="543.4" font-size="5.2" fill="#ffffff" text-anchor="start" fill-opacity="0.8" >名</text>
<text x="754.5" y="543.4" font-size="5.2" fill="#ffffff" text-anchor="start" fill-opacity="0.8" >称</text>
<text x="768.7" y="540.8" font-size="3.6" fill="#ffffff" text-anchor="start" fill-opacity="0.8" >数</text>
<text x="768.7" y="544.6" font-size="3.6" fill="#ffffff" text-anchor="start" fill-opacity="0.8" >量</text>
<text x="776.5" y="543.4" font-size="5.2" fill="#ffffff" text-anchor="start" fill-opacity="0.8" >材</text>
<text x="787.5" y="543.4" font-size="5.2" fill="#ffffff" text-anchor="start" fill-opacity="0.8" >料</text>
<text x="800.9" y="540.2" font-size="3.1" fill="#ffffff" text-anchor="start" fill-opacity="0.8" >单件</text>
<text x="808" y="540.2" font-size="3.1" fill="#ffffff" text-anchor="start" fill-opacity="0.8" >总计</text>
<text x="804.6" y="544.6" font-size="3.3" fill="#ffffff" text-anchor="start" fill-opacity="0.8" >重量</text>
<text x="818" y="543.4" font-size="4.4" fill="#ffffff" text-anchor="start" fill-opacity="0.8" >备注</text>
<line x1="703" y1="551.2" x2="759.7" y2="551.2" stroke="#00ff00" stroke-width="1" />
<line x1="703" y1="555.9" x2="759.7" y2="555.9" stroke="#00ff00" stroke-width="1" />
<line x1="703" y1="560.5" x2="759.7" y2="560.5" stroke="#00ff00" stroke-width="1" />
<line x1="703" y1="569.8" x2="759.7" y2="569.8" stroke="#00ff00" stroke-width="1" />
<line x1="703" y1="574.4" x2="759.7" y2="574.4" stroke="#00ff00" stroke-width="1" />
<line x1="703" y1="580.1" x2="759.7" y2="580.1" stroke="#00ff00" stroke-width="1" />
<line x1="703" y1="565.1" x2="759.7" y2="565.1" stroke="#ffffff" stroke-width="1.2" />
<line x1="710.9" y1="545.4" x2="710.9" y2="565.1" stroke="#00ff00" stroke-width="1" />
<line x1="717.5" y1="545.4" x2="717.5" y2="565.1" stroke="#00ff00" stroke-width="1" />
<line x1="728.4" y1="545.4" x2="728.4" y2="565.1" stroke="#00ff00" stroke-width="1" />
<line x1="739.7" y1="545.4" x2="739.7" y2="565.1" stroke="#00ff00" stroke-width="1" />
<line x1="748.4" y1="545.4" x2="748.4" y2="565.1" stroke="#00ff00" stroke-width="1" />
<line x1="711.7" y1="565.1" x2="711.7" y2="585.4" stroke="#00ff00" stroke-width="1" />
<line x1="720" y1="565.1" x2="720" y2="585.4" stroke="#00ff00" stroke-width="1" />
<line x1="731.7" y1="565.1" x2="731.7" y2="585.4" stroke="#00ff00" stroke-width="1" />
<line x1="739.7" y1="565.1" x2="739.7" y2="585.4" stroke="#00ff00" stroke-width="1" />
<line x1="748.4" y1="565.1" x2="748.4" y2="585.4" stroke="#00ff00" stroke-width="1" />
<line x1="759.7" y1="545.4" x2="759.7" y2="585.4" stroke="#ffffff" stroke-width="1.6" />
<line x1="794.8" y1="545.4" x2="794.8" y2="585.4" stroke="#ffffff" stroke-width="1.6" />
<line x1="759.7" y1="565.6" x2="794.8" y2="565.6" stroke="#ffffff" stroke-width="1.3" />
<line x1="759.7" y1="572.6" x2="794.8" y2="572.6" stroke="#ffffff" stroke-width="1.3" />
<line x1="759.7" y1="579.3" x2="794.8" y2="579.3" stroke="#ffffff" stroke-width="1.3" />
<line x1="777.6" y1="565.6" x2="777.6" y2="579.3" stroke="#00ff00" stroke-width="1" />
<line x1="785.9" y1="565.6" x2="785.9" y2="579.3" stroke="#00ff00" stroke-width="1" />
<line x1="764.2" y1="572.6" x2="764.2" y2="579.3" stroke="#00ff00" stroke-width="1" />
<line x1="768.4" y1="572.6" x2="768.4" y2="579.3" stroke="#00ff00" stroke-width="1" />
<line x1="772.6" y1="572.6" x2="772.6" y2="579.3" stroke="#00ff00" stroke-width="1" />
<text x="762.6" y="570.9" font-size="3.2" fill="#ffffff" text-anchor="start" textLength="13" lengthAdjust="spacingAndGlyphs" fill-opacity="0.75" >阶段标记</text>
<text x="779.2" y="570.9" font-size="3" fill="#ffffff" text-anchor="start" fill-opacity="0.75" >重量</text>
<text x="787.2" y="570.9" font-size="3" fill="#ffffff" text-anchor="start" fill-opacity="0.75" >比例</text>
<text x="787.6" y="577.6" font-size="3" fill="#ffffff" text-anchor="start" fill-opacity="0.75" >1:2</text>
<text x="766" y="584" font-size="3" fill="#ffffff" text-anchor="start" fill-opacity="0.75" >共 张</text>
<text x="779" y="584" font-size="3" fill="#ffffff" text-anchor="start" fill-opacity="0.75" >第 张</text>
<line x1="794.8" y1="562.1" x2="829.6" y2="562.1" stroke="#ffffff" stroke-width="1.4" />
<line x1="794.8" y1="573.1" x2="829.6" y2="573.1" stroke="#ffffff" stroke-width="1.4" />
<text x="811.6" y="553.6" font-size="3.8" fill="#ffffff" text-anchor="middle" textLength="21" lengthAdjust="spacingAndGlyphs" fill-opacity="0.75" >湖北理工学院</text>
<text x="810.6" y="558.8" font-size="3.8" fill="#ffffff" text-anchor="middle" textLength="17" lengthAdjust="spacingAndGlyphs" fill-opacity="0.75" >机电学院 系</text>
<text x="812" y="569.6" font-size="5" fill="#ffffff" text-anchor="middle" textLength="27" lengthAdjust="spacingAndGlyphs" fill-opacity="0.85" >矿用离心水泵总装</text>
<text x="811.6" y="581" font-size="4.6" fill="#ffffff" text-anchor="middle" textLength="11" lengthAdjust="spacingAndGlyphs" fill-opacity="0.8" >LB-12</text>
<text x="704" y="564" font-size="2.8" fill="#ffffff" text-anchor="start" fill-opacity="0.7" >标记</text>
<text x="711.6" y="564" font-size="2.8" fill="#ffffff" text-anchor="start" fill-opacity="0.7" >处数</text>
<text x="719.5" y="564" font-size="2.8" fill="#ffffff" text-anchor="start" fill-opacity="0.7" >分区</text>
<text x="741" y="564" font-size="2.8" fill="#ffffff" text-anchor="start" fill-opacity="0.7" >签名</text>
<text x="749.5" y="564" font-size="2.8" fill="#ffffff" text-anchor="start" fill-opacity="0.7" >年月日</text>
<text x="704" y="569" font-size="2.8" fill="#ffffff" text-anchor="start" fill-opacity="0.7" >设计</text>
<text x="733" y="569" font-size="2.6" fill="#ffffff" text-anchor="start" fill-opacity="0.7" >标准化</text>
<text x="704" y="579.4" font-size="2.8" fill="#ffffff" text-anchor="start" fill-opacity="0.7" >审核</text>
<text x="704" y="584.4" font-size="2.8" fill="#ffffff" text-anchor="start" fill-opacity="0.7" >工艺</text>
<text x="733" y="584.4" font-size="2.8" fill="#ffffff" text-anchor="start" fill-opacity="0.7" >批准</text>
</svg>
</body>
</html>
